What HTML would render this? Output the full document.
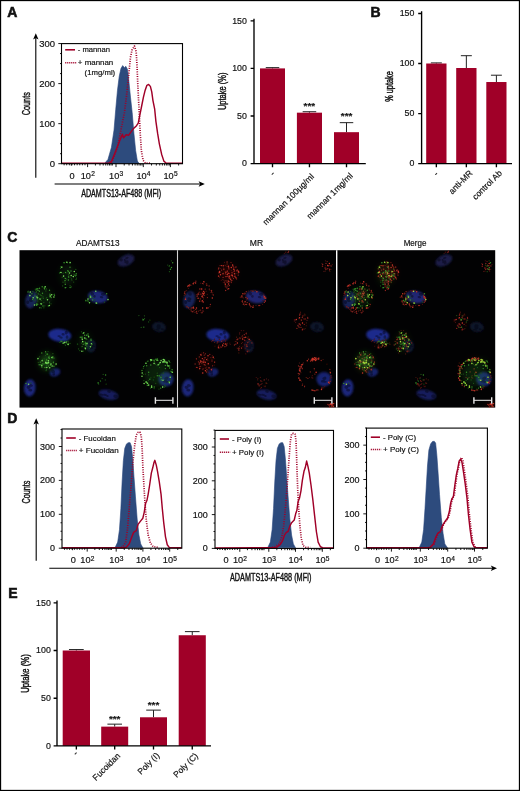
<!DOCTYPE html>
<html lang="en"><head><meta charset="utf-8"><title>Figure</title>
<style>html,body{margin:0;padding:0;background:#fff}svg{display:block}text{font-family:"Liberation Sans",sans-serif;stroke:#111;stroke-width:0.18px}.hv{stroke-width:0.55px}.cd{stroke-width:0.42px}</style>
</head><body>
<svg width="520" height="791" viewBox="0 0 520 791">
<rect x="0" y="0" width="520" height="791" fill="#fff"/>
<polygon points="104.52,163.53 107.98,159.38 111.44,147.27 114.03,129.97 115.76,109.20 117.49,90.17 119.22,76.33 120.95,68.55 122.68,65.61 124.41,67.68 125.80,66.30 127.53,69.41 128.74,79.79 130.47,97.09 132.20,112.66 133.93,133.43 135.66,150.73 137.39,161.11 139.12,163.53" fill="#2d4b7d" stroke="#27457c" stroke-width="0.6" stroke-linejoin="round"/>
<polyline points="111.44,163.18 112.30,161.11 117.49,147.27 120.95,129.97 124.41,112.66 127.01,91.90 128.74,74.60 130.47,57.30 132.02,50.03 134.45,46.06 136.18,51.76 137.04,65.95 137.73,83.25 138.60,100.55 139.46,117.85 140.33,135.16 141.37,150.73 143.10,160.24 145.52,163.18 150.36,163.18" fill="none" stroke="#a00028" stroke-width="1.7" stroke-dasharray="1 1.35" stroke-linejoin="round"/>
<polyline points="62.1,163.25 108.84,163.18 111.44,161.45 115.76,150.73 119.22,142.08 122.34,134.29 123.55,137.75 126.14,134.81 128.74,135.16 130.47,132.56 133.06,129.10 136.52,125.64 138.25,123.04 139.98,114.39 141.71,105.74 143.44,97.09 145.17,90.17 146.90,85.33 148.63,84.46 150.36,86.37 151.75,91.90 152.96,100.55 154.69,109.20 155.90,121.31 157.63,133.43 159.36,143.81 161.61,154.19 163.86,161.11 166.28,163.18 181.9,163.25" fill="none" stroke="#a00028" stroke-width="1.45" stroke-linejoin="round" stroke-linecap="round"/>
<rect x="61.5" y="43.6" width="121.0" height="120.1" fill="none" stroke="#000" stroke-width="1.1"/>
<path d="M61.5 163.70h-3.2M61.5 153.69h-1.5M61.5 143.67h-1.5M61.5 133.66h-1.5M61.5 123.65h-3.2M61.5 113.64h-1.5M61.5 103.62h-1.5M61.5 93.61h-1.5M61.5 83.60h-3.2M61.5 73.59h-1.5M61.5 63.57h-1.5M61.5 53.56h-1.5M61.5 43.55h-3.2M71.3 163.7v2M87.60 163.7v3.4M116.00 163.7v3.4M143.30 163.7v3.4M170.40 163.7v3.4M95.41 163.7v1.8M99.97 163.7v1.8M103.21 163.7v1.8M105.73 163.7v1.8M107.78 163.7v1.8M109.52 163.7v1.8M111.02 163.7v1.8M112.35 163.7v1.8M124.22 163.7v1.8M129.03 163.7v1.8M132.44 163.7v1.8M135.08 163.7v1.8M137.24 163.7v1.8M139.07 163.7v1.8M140.65 163.7v1.8M142.05 163.7v1.8M151.52 163.7v1.8M156.33 163.7v1.8M159.74 163.7v1.8M162.38 163.7v1.8M164.54 163.7v1.8M166.37 163.7v1.8M167.95 163.7v1.8M169.35 163.7v1.8M178.62 163.7v1.8M64.11 163.7v1.6M66.72 163.7v1.6M69.33 163.7v1.6M71.94 163.7v1.6M74.55 163.7v1.6M77.16 163.7v1.6M79.77 163.7v1.6M82.38 163.7v1.6M84.99 163.7v1.6" stroke="#000" stroke-width="0.9" fill="none"/>
<text x="55.10" y="166.75" font-size="8.8" text-anchor="end" textLength="5.3" lengthAdjust="spacingAndGlyphs" fill="#111">0</text>
<text x="55.10" y="126.70" font-size="8.8" text-anchor="end" textLength="15.8" lengthAdjust="spacingAndGlyphs" fill="#111">100</text>
<text x="55.10" y="86.65" font-size="8.8" text-anchor="end" textLength="15.8" lengthAdjust="spacingAndGlyphs" fill="#111">200</text>
<text x="55.10" y="46.60" font-size="8.8" text-anchor="end" textLength="15.8" lengthAdjust="spacingAndGlyphs" fill="#111">300</text>
<text x="72.10" y="178.70" font-size="9.200000000000001" text-anchor="middle" fill="#111">0</text>
<text x="80.70" y="178.70" font-size="9.200000000000001" fill="#111">10<tspan dx="0.2" dy="-2.6" font-size="6.62">2</tspan></text>
<text x="109.10" y="178.70" font-size="9.200000000000001" fill="#111">10<tspan dx="0.2" dy="-2.6" font-size="6.62">3</tspan></text>
<text x="136.40" y="178.70" font-size="9.200000000000001" fill="#111">10<tspan dx="0.2" dy="-2.6" font-size="6.62">4</tspan></text>
<text x="163.50" y="178.70" font-size="9.200000000000001" fill="#111">10<tspan dx="0.2" dy="-2.6" font-size="6.62">5</tspan></text>
<path d="M35.8 177.7V37.2" stroke="#000" stroke-width="1.1" fill="none"/>
<path d="M35.8 33.2l2.7 6.2l-2.7 -1.5l-2.7 1.5z" fill="#000"/>
<path d="M54.6 184.0H200.8" stroke="#000" stroke-width="1.1" fill="none"/>
<path d="M204.8 184.0l-6.2 2.7l1.5 -2.7l-1.5 -2.7z" fill="#000"/>
<path d="M65.2 49.8H75" stroke="#a00028" stroke-width="1.6"/>
<path d="M65.2 62.7H76.2" stroke="#a00028" stroke-width="1.4" stroke-dasharray="1.1 0.9"/>
<text x="77.80" y="52.30" font-size="7.9" textLength="32.3" lengthAdjust="spacingAndGlyphs" fill="#111">- mannan</text>
<text x="77.80" y="65.30" font-size="7.9" textLength="35.5" lengthAdjust="spacingAndGlyphs" fill="#111">+ mannan</text>
<text x="84.60" y="74.80" font-size="7.9" textLength="30.6" lengthAdjust="spacingAndGlyphs" fill="#111">(1mg/ml)</text>
<text transform="translate(29.60 103.70) rotate(-90)" font-size="10.6" text-anchor="middle" textLength="23" lengthAdjust="spacingAndGlyphs" fill="#111" class="cd">Counts</text>
<text x="81.20" y="196.70" font-size="10.6" textLength="80" lengthAdjust="spacingAndGlyphs" fill="#111" class="cd">ADAMTS13-AF488 (MFI)</text>
<text x="7.30" y="17.20" font-size="14" font-weight="bold" fill="#111" class="hv">A</text>
<path d="M272.50 68.40V67.64M265.75 67.64H279.25" stroke="#222" stroke-width="1" fill="none"/>
<rect x="260.00" y="68.40" width="25.00" height="95.20" fill="#a00028"/>
<path d="M309.45 112.67V111.72M302.67 111.72H316.23" stroke="#222" stroke-width="1" fill="none"/>
<rect x="296.90" y="112.67" width="25.10" height="50.93" fill="#a00028"/>
<path d="M346.50 132.18V122.66M339.75 122.66H353.25" stroke="#222" stroke-width="1" fill="none"/>
<rect x="334.00" y="132.18" width="25.00" height="31.42" fill="#a00028"/>
<path d="M254 18.7V163.6M253.4 163.6H365.8M254 163.60h-3.4M254 116.00h-3.4M254 68.40h-3.4M254 20.80h-3.4M272.50 163.6v3.6M309.45 163.6v3.6M346.50 163.6v3.6" stroke="#000" stroke-width="1.35" fill="none"/>
<text x="246.90" y="166.35" font-size="8.8" text-anchor="end" fill="#111">0</text>
<text x="246.90" y="118.75" font-size="8.8" text-anchor="end" fill="#111">50</text>
<text x="246.90" y="71.15" font-size="8.8" text-anchor="end" fill="#111">100</text>
<text x="246.90" y="23.55" font-size="8.8" text-anchor="end" fill="#111">150</text>
<text transform="translate(225.60 91.30) rotate(-90)" font-size="10.1" text-anchor="middle" textLength="37.5" lengthAdjust="spacingAndGlyphs" fill="#111" class="cd">Uptake (%)</text>
<text transform="translate(275.30 174.30) rotate(-45)" font-size="8.5" text-anchor="end" fill="#111">-</text>
<text transform="translate(314.50 177.20) rotate(-45)" font-size="8.5" text-anchor="end" fill="#111">mannan 100µg/ml</text>
<text transform="translate(353.30 176.50) rotate(-45)" font-size="8.5" text-anchor="end" fill="#111">mannan 1mg/ml</text>
<text x="309.30" y="109.30" font-size="9.5" text-anchor="middle" textLength="11.5" lengthAdjust="spacingAndGlyphs" font-weight="bold" fill="#111">***</text>
<text x="346.60" y="118.70" font-size="9.5" text-anchor="middle" textLength="11.5" lengthAdjust="spacingAndGlyphs" font-weight="bold" fill="#111">***</text>
<path d="M436.35 63.50V62.90M430.87 62.90H441.83" stroke="#222" stroke-width="1" fill="none"/>
<rect x="426.20" y="63.50" width="20.30" height="100.10" fill="#a00028"/>
<path d="M466.35 68.00V55.69M460.87 55.69H471.83" stroke="#222" stroke-width="1" fill="none"/>
<rect x="456.20" y="68.00" width="20.30" height="95.60" fill="#a00028"/>
<path d="M496.40 82.02V75.21M490.95 75.21H501.85" stroke="#222" stroke-width="1" fill="none"/>
<rect x="486.30" y="82.02" width="20.20" height="81.58" fill="#a00028"/>
<path d="M421.6 11.3V163.6M421.0 163.6H512M421.6 163.60h-3.4M421.6 113.55h-3.4M421.6 63.50h-3.4M421.6 13.45h-3.4M436.35 163.6v3.6M466.35 163.6v3.6M496.40 163.6v3.6" stroke="#000" stroke-width="1.35" fill="none"/>
<text x="414.40" y="166.35" font-size="8.8" text-anchor="end" fill="#111">0</text>
<text x="414.40" y="116.30" font-size="8.8" text-anchor="end" fill="#111">50</text>
<text x="414.40" y="66.25" font-size="8.8" text-anchor="end" fill="#111">100</text>
<text x="414.40" y="16.20" font-size="8.8" text-anchor="end" fill="#111">150</text>
<text transform="translate(393.30 86.50) rotate(-90)" font-size="10.1" text-anchor="middle" textLength="30.5" lengthAdjust="spacingAndGlyphs" fill="#111" class="cd">% uptake</text>
<text transform="translate(438.80 174.50) rotate(-45)" font-size="8.5" text-anchor="end" fill="#111">-</text>
<text transform="translate(473.20 173.60) rotate(-45)" font-size="8.5" text-anchor="end" fill="#111">anti-MR</text>
<text transform="translate(502.50 173.60) rotate(-45)" font-size="8.5" text-anchor="end" fill="#111">control Ab</text>
<text x="370.50" y="17.20" font-size="14" font-weight="bold" fill="#111" class="hv">B</text>
<path d="M76.35 650.50V649.55M68.98 649.55H83.72" stroke="#222" stroke-width="1" fill="none"/>
<rect x="62.70" y="650.50" width="27.30" height="95.40" fill="#a00028"/>
<path d="M114.70 726.63V724.15M107.41 724.15H121.99" stroke="#222" stroke-width="1" fill="none"/>
<rect x="101.20" y="726.63" width="27.00" height="19.27" fill="#a00028"/>
<path d="M153.50 717.28V710.12M146.21 710.12H160.79" stroke="#222" stroke-width="1" fill="none"/>
<rect x="140.00" y="717.28" width="27.00" height="28.62" fill="#a00028"/>
<path d="M192.25 635.24V631.61M184.93 631.61H199.57" stroke="#222" stroke-width="1" fill="none"/>
<rect x="178.70" y="635.24" width="27.10" height="110.66" fill="#a00028"/>
<path d="M57 600.5V745.9M56.4 745.9H211M57 745.90h-3.4M57 698.20h-3.4M57 650.50h-3.4M57 602.80h-3.4M76.35 745.9v3.6M114.70 745.9v3.6M153.50 745.9v3.6M192.25 745.9v3.6" stroke="#000" stroke-width="1.35" fill="none"/>
<text x="50.80" y="748.65" font-size="8.8" text-anchor="end" fill="#111">0</text>
<text x="50.80" y="700.95" font-size="8.8" text-anchor="end" fill="#111">50</text>
<text x="50.80" y="653.25" font-size="8.8" text-anchor="end" fill="#111">100</text>
<text x="50.80" y="605.55" font-size="8.8" text-anchor="end" fill="#111">150</text>
<text transform="translate(28.70 673.50) rotate(-90)" font-size="10.1" text-anchor="middle" textLength="38.5" lengthAdjust="spacingAndGlyphs" fill="#111" class="cd">Uptake (%)</text>
<text transform="translate(78.30 754.00) rotate(-45)" font-size="8.5" text-anchor="end" fill="#111">-</text>
<text transform="translate(120.80 756.40) rotate(-45)" font-size="8.5" text-anchor="end" fill="#111">Fucoidan</text>
<text transform="translate(160.00 756.00) rotate(-45)" font-size="8.5" text-anchor="end" fill="#111">Poly (I)</text>
<text transform="translate(198.50 756.40) rotate(-45)" font-size="8.5" text-anchor="end" fill="#111">Poly (C)</text>
<text x="114.70" y="721.70" font-size="9.5" text-anchor="middle" textLength="11.5" lengthAdjust="spacingAndGlyphs" font-weight="bold" fill="#111">***</text>
<text x="153.50" y="707.90" font-size="9.5" text-anchor="middle" textLength="11.5" lengthAdjust="spacingAndGlyphs" font-weight="bold" fill="#111">***</text>
<text x="8.20" y="598.20" font-size="14" font-weight="bold" fill="#111" class="hv">E</text>
<polygon points="115.04,547.79 117.70,542.12 119.47,529.73 120.88,508.50 122.12,481.95 123.36,460.71 124.78,448.32 126.55,443.89 128.32,442.65 130.09,442.65 131.50,446.55 132.74,458.94 133.98,476.64 135.40,496.11 137.17,519.12 138.94,535.04 140.71,543.89 142.83,547.79" fill="#2d4b7d" stroke="#27457c" stroke-width="0.6" stroke-linejoin="round"/>
<polyline points="121.24,547.43 123.01,546.73 125.66,542.12 127.43,529.73 129.20,508.50 130.97,487.26 132.74,464.25 134.51,446.55 136.28,435.04 138.05,432.39 139.82,432.04 141.24,435.93 142.12,448.32 142.83,466.02 143.89,485.49 145.13,504.96 146.37,520.88 148.14,535.04 150.44,543.01 153.10,546.55 158.41,547.43" fill="none" stroke="#a00028" stroke-width="1.7" stroke-dasharray="1 1.35" stroke-linejoin="round"/>
<polyline points="62.6,547.75 123.89,547.79 126.55,547.08 129.20,543.89 131.86,536.81 133.63,532.39 136.28,530.62 138.05,524.42 140.71,520.88 142.83,518.23 144.25,512.04 145.66,503.19 146.90,500.53 148.14,494.34 149.56,485.49 151.33,473.10 152.74,467.79 153.98,462.48 154.87,460.35 156.28,465.13 157.52,471.33 159.29,481.95 161.06,494.34 162.30,508.50 163.72,522.65 165.49,536.81 167.26,544.78 169.38,547.61 181.20000000000002,547.75" fill="none" stroke="#a00028" stroke-width="1.45" stroke-linejoin="round" stroke-linecap="round"/>
<rect x="62" y="429" width="119.80000000000001" height="119.20000000000005" fill="none" stroke="#000" stroke-width="1.1"/>
<path d="M62 548.20h-3.2M62 539.73h-1.5M62 531.25h-1.5M62 522.78h-1.5M62 514.30h-3.2M62 505.83h-1.5M62 497.35h-1.5M62 488.88h-1.5M62 480.40h-3.2M62 471.93h-1.5M62 463.45h-1.5M62 454.98h-1.5M62 446.50h-3.2M62 438.03h-1.5M62 429.55h-1.5M72.6 548.2v2M87.20 548.2v3.4M116.20 548.2v3.4M142.90 548.2v3.4M169.70 548.2v3.4M94.84 548.2v1.8M99.30 548.2v1.8M102.47 548.2v1.8M104.93 548.2v1.8M106.94 548.2v1.8M108.64 548.2v1.8M110.11 548.2v1.8M111.40 548.2v1.8M124.24 548.2v1.8M128.94 548.2v1.8M132.28 548.2v1.8M134.86 548.2v1.8M136.98 548.2v1.8M138.76 548.2v1.8M140.31 548.2v1.8M141.68 548.2v1.8M150.94 548.2v1.8M155.64 548.2v1.8M158.98 548.2v1.8M161.56 548.2v1.8M163.68 548.2v1.8M165.46 548.2v1.8M167.01 548.2v1.8M168.38 548.2v1.8M177.74 548.2v1.8M64.52 548.2v1.6M67.04 548.2v1.6M69.56 548.2v1.6M72.08 548.2v1.6M74.60 548.2v1.6M77.12 548.2v1.6M79.64 548.2v1.6M82.16 548.2v1.6M84.68 548.2v1.6" stroke="#000" stroke-width="0.9" fill="none"/>
<text x="55.00" y="551.25" font-size="8.8" text-anchor="end" textLength="5.0" lengthAdjust="spacingAndGlyphs" fill="#111">0</text>
<text x="55.00" y="517.35" font-size="8.8" text-anchor="end" textLength="15.0" lengthAdjust="spacingAndGlyphs" fill="#111">100</text>
<text x="55.00" y="483.45" font-size="8.8" text-anchor="end" textLength="15.0" lengthAdjust="spacingAndGlyphs" fill="#111">200</text>
<text x="55.00" y="449.55" font-size="8.8" text-anchor="end" textLength="15.0" lengthAdjust="spacingAndGlyphs" fill="#111">300</text>
<text x="73.40" y="563.20" font-size="9.200000000000001" text-anchor="middle" fill="#111">0</text>
<text x="80.30" y="563.20" font-size="9.200000000000001" fill="#111">10<tspan dx="0.2" dy="-2.6" font-size="6.62">2</tspan></text>
<text x="109.30" y="563.20" font-size="9.200000000000001" fill="#111">10<tspan dx="0.2" dy="-2.6" font-size="6.62">3</tspan></text>
<text x="136.00" y="563.20" font-size="9.200000000000001" fill="#111">10<tspan dx="0.2" dy="-2.6" font-size="6.62">4</tspan></text>
<text x="162.80" y="563.20" font-size="9.200000000000001" fill="#111">10<tspan dx="0.2" dy="-2.6" font-size="6.62">5</tspan></text>
<path d="M66.2 438H75.8" stroke="#a00028" stroke-width="1.6"/>
<path d="M66.2 450.5H77.0" stroke="#a00028" stroke-width="1.4" stroke-dasharray="1.1 0.9"/>
<text x="78.80" y="440.50" font-size="7.9" textLength="37" lengthAdjust="spacingAndGlyphs" fill="#111">- Fucoidan</text>
<text x="78.80" y="453.10" font-size="7.9" textLength="40" lengthAdjust="spacingAndGlyphs" fill="#111">+ Fucoidan</text>
<polygon points="267.70,547.79 270.35,542.12 272.12,529.73 273.54,508.50 274.78,481.95 276.02,460.71 277.43,448.32 279.20,443.89 280.97,442.65 282.74,442.65 284.16,446.55 285.40,458.94 286.64,476.64 288.05,496.11 289.82,519.12 291.59,535.04 293.36,543.89 295.49,547.79" fill="#2d4b7d" stroke="#27457c" stroke-width="0.6" stroke-linejoin="round"/>
<polyline points="272.12,547.43 274.78,546.90 279.20,543.89 281.86,536.81 283.63,526.19 285.40,508.50 286.81,490.80 288.05,473.10 289.29,455.40 290.35,441.24 291.59,434.16 293.36,433.27 295.13,434.16 296.02,441.24 296.55,455.40 297.08,473.10 297.79,490.80 298.67,508.50 299.91,526.19 301.33,538.58 303.10,545.66 305.75,547.26 310.18,547.43" fill="none" stroke="#a00028" stroke-width="1.7" stroke-dasharray="1 1.35" stroke-linejoin="round"/>
<polyline points="215.6,547.9499999999999 273.89,547.79 276.55,547.43 280.09,544.78 282.74,540.35 284.51,535.04 286.28,532.39 288.05,531.50 289.82,526.19 291.59,522.65 294.25,520.00 295.66,513.81 296.90,510.27 298.14,501.42 299.56,497.88 300.97,490.80 302.39,480.18 303.98,471.33 305.22,467.79 306.64,461.06 308.05,466.90 309.29,473.10 311.06,485.49 312.83,499.65 314.60,515.58 316.37,531.50 318.14,542.12 320.44,546.73 322.57,547.61 332.9,547.9499999999999" fill="none" stroke="#a00028" stroke-width="1.45" stroke-linejoin="round" stroke-linecap="round"/>
<rect x="215" y="430.4" width="118.5" height="118.0" fill="none" stroke="#000" stroke-width="1.1"/>
<path d="M215 548.40h-3.2M215 539.95h-1.5M215 531.50h-1.5M215 523.05h-1.5M215 514.60h-3.2M215 506.15h-1.5M215 497.70h-1.5M215 489.25h-1.5M215 480.80h-3.2M215 472.35h-1.5M215 463.90h-1.5M215 455.45h-1.5M215 447.00h-3.2M215 438.55h-1.5M215 430.10h-1.5M225.2 548.4v2M239.80 548.4v3.4M268.80 548.4v3.4M295.50 548.4v3.4M322.30 548.4v3.4M247.44 548.4v1.8M251.90 548.4v1.8M255.07 548.4v1.8M257.53 548.4v1.8M259.54 548.4v1.8M261.24 548.4v1.8M262.71 548.4v1.8M264.00 548.4v1.8M276.84 548.4v1.8M281.54 548.4v1.8M284.88 548.4v1.8M287.46 548.4v1.8M289.58 548.4v1.8M291.36 548.4v1.8M292.91 548.4v1.8M294.28 548.4v1.8M303.54 548.4v1.8M308.24 548.4v1.8M311.58 548.4v1.8M314.16 548.4v1.8M316.28 548.4v1.8M318.06 548.4v1.8M319.61 548.4v1.8M320.98 548.4v1.8M330.34 548.4v1.8M217.48 548.4v1.6M219.96 548.4v1.6M222.44 548.4v1.6M224.92 548.4v1.6M227.40 548.4v1.6M229.88 548.4v1.6M232.36 548.4v1.6M234.84 548.4v1.6M237.32 548.4v1.6" stroke="#000" stroke-width="0.9" fill="none"/>
<text x="207.80" y="551.45" font-size="8.8" text-anchor="end" textLength="5.0" lengthAdjust="spacingAndGlyphs" fill="#111">0</text>
<text x="207.80" y="517.65" font-size="8.8" text-anchor="end" textLength="15.0" lengthAdjust="spacingAndGlyphs" fill="#111">100</text>
<text x="207.80" y="483.85" font-size="8.8" text-anchor="end" textLength="15.0" lengthAdjust="spacingAndGlyphs" fill="#111">200</text>
<text x="207.80" y="450.05" font-size="8.8" text-anchor="end" textLength="15.0" lengthAdjust="spacingAndGlyphs" fill="#111">300</text>
<text x="226.00" y="563.40" font-size="9.200000000000001" text-anchor="middle" fill="#111">0</text>
<text x="232.90" y="563.40" font-size="9.200000000000001" fill="#111">10<tspan dx="0.2" dy="-2.6" font-size="6.62">2</tspan></text>
<text x="261.90" y="563.40" font-size="9.200000000000001" fill="#111">10<tspan dx="0.2" dy="-2.6" font-size="6.62">3</tspan></text>
<text x="288.60" y="563.40" font-size="9.200000000000001" fill="#111">10<tspan dx="0.2" dy="-2.6" font-size="6.62">4</tspan></text>
<text x="315.40" y="563.40" font-size="9.200000000000001" fill="#111">10<tspan dx="0.2" dy="-2.6" font-size="6.62">5</tspan></text>
<path d="M219.8 439H229" stroke="#a00028" stroke-width="1.6"/>
<path d="M219.8 452.2H230.2" stroke="#a00028" stroke-width="1.4" stroke-dasharray="1.1 0.9"/>
<text x="232.00" y="441.50" font-size="7.9" textLength="29.4" lengthAdjust="spacingAndGlyphs" fill="#111">- Poly (I)</text>
<text x="232.00" y="454.80" font-size="7.9" textLength="31.8" lengthAdjust="spacingAndGlyphs" fill="#111">+ Poly (I)</text>
<polygon points="419.16,547.79 421.81,542.12 423.58,529.73 425.00,508.50 426.24,487.26 427.48,466.02 428.89,450.09 430.66,443.89 432.43,441.59 434.20,441.24 435.62,443.01 436.86,455.40 438.10,473.10 439.51,494.34 441.28,517.35 443.05,533.27 444.82,543.89 447.48,547.79" fill="#2d4b7d" stroke="#27457c" stroke-width="0.6" stroke-linejoin="round"/>
<polyline points="428.01,547.79 430.66,547.43 434.20,543.82 436.86,536.59 438.63,532.98 441.28,531.18 443.41,524.86 445.71,521.25 448.36,517.64 450.13,511.32 451.55,502.29 452.79,497.78 454.20,495.98 455.44,486.05 457.21,473.41 458.63,467.09 460.04,459.33 461.64,457.52 462.88,460.77 464.29,469.80 466.06,482.44 467.83,496.88 469.25,513.13 471.02,529.37 472.79,542.01 474.91,546.70 476.68,547.61" fill="none" stroke="#a00028" stroke-width="1.7" stroke-dasharray="1 1.35" stroke-linejoin="round"/>
<polyline points="367.1,547.75 427.12,547.79 429.78,547.43 433.32,543.89 435.97,536.81 437.74,533.27 440.40,531.50 442.52,525.31 444.82,521.77 447.48,518.23 449.25,512.04 450.66,503.19 451.90,498.76 453.32,496.99 454.56,487.26 456.33,474.87 457.74,468.67 459.16,461.06 460.75,459.29 461.99,462.48 463.41,471.33 465.18,483.72 466.95,497.88 468.36,513.81 470.13,529.73 471.90,542.12 474.03,546.73 475.80,547.61 486.79999999999995,547.75" fill="none" stroke="#a00028" stroke-width="1.45" stroke-linejoin="round" stroke-linecap="round"/>
<rect x="366.5" y="428.1" width="120.89999999999998" height="120.10000000000002" fill="none" stroke="#000" stroke-width="1.1"/>
<path d="M366.5 548.20h-3.2M366.5 539.61h-1.5M366.5 531.03h-1.5M366.5 522.44h-1.5M366.5 513.85h-3.2M366.5 505.26h-1.5M366.5 496.68h-1.5M366.5 488.09h-1.5M366.5 479.50h-3.2M366.5 470.91h-1.5M366.5 462.33h-1.5M366.5 453.74h-1.5M366.5 445.15h-3.2M366.5 436.56h-1.5M366.5 427.98h-1.5M376.7 548.2v2M391.40 548.2v3.4M420.30 548.2v3.4M447.70 548.2v3.4M474.50 548.2v3.4M399.24 548.2v1.8M403.82 548.2v1.8M407.07 548.2v1.8M409.59 548.2v1.8M411.66 548.2v1.8M413.40 548.2v1.8M414.91 548.2v1.8M416.24 548.2v1.8M428.55 548.2v1.8M433.37 548.2v1.8M436.80 548.2v1.8M439.45 548.2v1.8M441.62 548.2v1.8M443.46 548.2v1.8M445.04 548.2v1.8M446.45 548.2v1.8M455.95 548.2v1.8M460.77 548.2v1.8M464.20 548.2v1.8M466.85 548.2v1.8M469.02 548.2v1.8M470.86 548.2v1.8M472.44 548.2v1.8M473.85 548.2v1.8M482.75 548.2v1.8M368.99 548.2v1.6M371.48 548.2v1.6M373.97 548.2v1.6M376.46 548.2v1.6M378.95 548.2v1.6M381.44 548.2v1.6M383.93 548.2v1.6M386.42 548.2v1.6M388.91 548.2v1.6" stroke="#000" stroke-width="0.9" fill="none"/>
<text x="359.40" y="551.25" font-size="8.8" text-anchor="end" textLength="5.0" lengthAdjust="spacingAndGlyphs" fill="#111">0</text>
<text x="359.40" y="516.90" font-size="8.8" text-anchor="end" textLength="15.0" lengthAdjust="spacingAndGlyphs" fill="#111">100</text>
<text x="359.40" y="482.55" font-size="8.8" text-anchor="end" textLength="15.0" lengthAdjust="spacingAndGlyphs" fill="#111">200</text>
<text x="359.40" y="448.20" font-size="8.8" text-anchor="end" textLength="15.0" lengthAdjust="spacingAndGlyphs" fill="#111">300</text>
<text x="377.50" y="563.20" font-size="9.200000000000001" text-anchor="middle" fill="#111">0</text>
<text x="384.50" y="563.20" font-size="9.200000000000001" fill="#111">10<tspan dx="0.2" dy="-2.6" font-size="6.62">2</tspan></text>
<text x="413.40" y="563.20" font-size="9.200000000000001" fill="#111">10<tspan dx="0.2" dy="-2.6" font-size="6.62">3</tspan></text>
<text x="440.80" y="563.20" font-size="9.200000000000001" fill="#111">10<tspan dx="0.2" dy="-2.6" font-size="6.62">4</tspan></text>
<text x="467.60" y="563.20" font-size="9.200000000000001" fill="#111">10<tspan dx="0.2" dy="-2.6" font-size="6.62">5</tspan></text>
<path d="M370.8 437.2H380" stroke="#a00028" stroke-width="1.6"/>
<path d="M370.8 449.5H381.2" stroke="#a00028" stroke-width="1.4" stroke-dasharray="1.1 0.9"/>
<text x="383.00" y="439.70" font-size="7.9" textLength="33" lengthAdjust="spacingAndGlyphs" fill="#111">- Poly (C)</text>
<text x="383.00" y="452.10" font-size="7.9" textLength="36" lengthAdjust="spacingAndGlyphs" fill="#111">+ Poly (C)</text>
<path d="M36.2 560.8V422.3" stroke="#000" stroke-width="1.1" fill="none"/>
<path d="M36.2 418.3l2.7 6.2l-2.7 -1.5l-2.7 1.5z" fill="#000"/>
<path d="M49.3 568.2H493" stroke="#000" stroke-width="1.1" fill="none"/>
<path d="M497 568.2l-6.2 2.7l1.5 -2.7l-1.5 -2.7z" fill="#000"/>
<text transform="translate(30.10 492.00) rotate(-90)" font-size="10.6" text-anchor="middle" textLength="23" lengthAdjust="spacingAndGlyphs" fill="#111" class="cd">Counts</text>
<text x="230.00" y="581.20" font-size="10.6" textLength="81.5" lengthAdjust="spacingAndGlyphs" fill="#111" class="cd">ADAMTS13-AF488 (MFI)</text>
<text x="7.30" y="423.20" font-size="14" font-weight="bold" fill="#111" class="hv">D</text>
<defs><filter id="b1" x="-20%" y="-20%" width="140%" height="140%"><feGaussianBlur stdDeviation="0.45"/></filter><filter id="b2" x="-30%" y="-30%" width="160%" height="160%"><feGaussianBlur stdDeviation="1.25"/></filter><filter id="b4" x="-50%" y="-50%" width="200%" height="200%"><feGaussianBlur stdDeviation="0.7"/></filter><filter id="b3" x="-50%" y="-50%" width="200%" height="200%"><feGaussianBlur stdDeviation="3"/></filter><clipPath id="cp"><rect x="19.5" y="250.2" width="475.7" height="157.40000000000003"/></clipPath></defs>
<rect x="19.5" y="250.2" width="475.7" height="157.40000000000003" fill="#020203"/>
<text x="97.80" y="246.00" font-size="8.2" text-anchor="middle" textLength="43.5" lengthAdjust="spacingAndGlyphs" fill="#111">ADAMTS13</text>
<text x="256.50" y="246.00" font-size="8.2" text-anchor="middle" textLength="13.3" lengthAdjust="spacingAndGlyphs" fill="#111">MR</text>
<text x="415.00" y="246.00" font-size="8.2" text-anchor="middle" textLength="22.7" lengthAdjust="spacingAndGlyphs" fill="#111">Merge</text>
<text x="7.30" y="242.20" font-size="14" font-weight="bold" fill="#111" class="hv">C</text>
<g clip-path="url(#cp)"><g transform="translate(0 0)">
<g filter="url(#b2)">
<ellipse cx="126" cy="260.5" rx="9" ry="5.3" transform="rotate(-25 126 260.5)" fill="#1a1e46"/>
<ellipse cx="31.3" cy="299.8" rx="5.8" ry="8.8" transform="rotate(15 31.3 299.8)" fill="#172058"/>
<ellipse cx="97.8" cy="297" rx="10" ry="6.2" transform="rotate(10 97.8 297)" fill="#1b2674"/>
<ellipse cx="159" cy="327" rx="7" ry="5" transform="rotate(10 159 327)" fill="#11132c"/>
<ellipse cx="59.8" cy="335.3" rx="11.5" ry="6.4" transform="rotate(5 59.8 335.3)" fill="#1f2a8c"/>
<ellipse cx="91" cy="346" rx="5" ry="6.5" transform="rotate(0 91 346)" fill="#10132e"/>
<ellipse cx="55" cy="372.4" rx="5.5" ry="4" transform="rotate(-20 55 372.4)" fill="#19236c"/>
<ellipse cx="166" cy="379.3" rx="7.5" ry="7.2" transform="rotate(0 166 379.3)" fill="#192370"/>
<ellipse cx="29.8" cy="387.8" rx="5.8" ry="8.6" transform="rotate(5 29.8 387.8)" fill="#1b267a"/>
<ellipse cx="108.5" cy="394.7" rx="10" ry="4.9" transform="rotate(12 108.5 394.7)" fill="#171f5c"/>
</g>
<g filter="url(#b4)" fill="#04050c" opacity="0.42">
<ellipse cx="126.3" cy="262.9" rx="1.4" ry="1.4" transform="rotate(-25 126 260.5)"/>
<ellipse cx="125.1" cy="260.0" rx="1.0" ry="1.6" transform="rotate(-25 126 260.5)"/>
<ellipse cx="125.9" cy="261.8" rx="2.2" ry="1.3" transform="rotate(-25 126 260.5)"/>
<ellipse cx="127.9" cy="258.6" rx="1.8" ry="1.0" transform="rotate(-25 126 260.5)"/>
<ellipse cx="122.0" cy="257.9" rx="1.6" ry="1.5" transform="rotate(-25 126 260.5)"/>
<ellipse cx="30.9" cy="298.7" rx="1.9" ry="1.4" transform="rotate(15 31.3 299.8)"/>
<ellipse cx="31.1" cy="300.8" rx="2.0" ry="1.3" transform="rotate(15 31.3 299.8)"/>
<ellipse cx="30.5" cy="294.0" rx="1.9" ry="1.7" transform="rotate(15 31.3 299.8)"/>
<ellipse cx="28.5" cy="303.1" rx="1.5" ry="1.7" transform="rotate(15 31.3 299.8)"/>
<ellipse cx="32.0" cy="298.8" rx="1.2" ry="1.0" transform="rotate(15 31.3 299.8)"/>
<ellipse cx="101.5" cy="296.5" rx="1.8" ry="1.1" transform="rotate(10 97.8 297)"/>
<ellipse cx="94.3" cy="296.9" rx="1.4" ry="1.4" transform="rotate(10 97.8 297)"/>
<ellipse cx="91.9" cy="294.8" rx="1.8" ry="1.7" transform="rotate(10 97.8 297)"/>
<ellipse cx="102.4" cy="293.4" rx="1.8" ry="1.0" transform="rotate(10 97.8 297)"/>
<ellipse cx="102.5" cy="293.5" rx="2.1" ry="1.4" transform="rotate(10 97.8 297)"/>
<ellipse cx="158.6" cy="325.8" rx="2.0" ry="1.4" transform="rotate(10 159 327)"/>
<ellipse cx="158.8" cy="327.7" rx="2.0" ry="1.8" transform="rotate(10 159 327)"/>
<ellipse cx="162.7" cy="328.6" rx="1.5" ry="1.0" transform="rotate(10 159 327)"/>
<ellipse cx="157.9" cy="329.9" rx="2.0" ry="0.8" transform="rotate(10 159 327)"/>
<ellipse cx="158.3" cy="326.6" rx="1.9" ry="1.1" transform="rotate(10 159 327)"/>
<ellipse cx="66.0" cy="332.1" rx="1.6" ry="1.8" transform="rotate(5 59.8 335.3)"/>
<ellipse cx="59.2" cy="336.2" rx="1.7" ry="0.8" transform="rotate(5 59.8 335.3)"/>
<ellipse cx="61.2" cy="337.5" rx="1.7" ry="1.0" transform="rotate(5 59.8 335.3)"/>
<ellipse cx="67.2" cy="336.4" rx="1.4" ry="1.8" transform="rotate(5 59.8 335.3)"/>
<ellipse cx="63.0" cy="334.0" rx="1.6" ry="1.3" transform="rotate(5 59.8 335.3)"/>
<ellipse cx="89.5" cy="343.5" rx="1.7" ry="1.4" transform="rotate(0 91 346)"/>
<ellipse cx="93.0" cy="345.0" rx="1.5" ry="1.5" transform="rotate(0 91 346)"/>
<ellipse cx="91.1" cy="347.9" rx="2.2" ry="1.3" transform="rotate(0 91 346)"/>
<ellipse cx="90.5" cy="345.8" rx="1.5" ry="1.4" transform="rotate(0 91 346)"/>
<ellipse cx="93.5" cy="346.4" rx="1.8" ry="0.9" transform="rotate(0 91 346)"/>
<ellipse cx="53.5" cy="371.2" rx="1.8" ry="1.2" transform="rotate(-20 55 372.4)"/>
<ellipse cx="54.1" cy="370.2" rx="1.0" ry="0.9" transform="rotate(-20 55 372.4)"/>
<ellipse cx="53.2" cy="369.8" rx="1.3" ry="1.3" transform="rotate(-20 55 372.4)"/>
<ellipse cx="53.6" cy="371.7" rx="1.4" ry="1.1" transform="rotate(-20 55 372.4)"/>
<ellipse cx="53.2" cy="373.8" rx="1.4" ry="1.2" transform="rotate(-20 55 372.4)"/>
<ellipse cx="166.1" cy="378.5" rx="1.7" ry="1.5" transform="rotate(0 166 379.3)"/>
<ellipse cx="165.3" cy="380.9" rx="2.0" ry="1.0" transform="rotate(0 166 379.3)"/>
<ellipse cx="167.1" cy="381.8" rx="1.8" ry="0.9" transform="rotate(0 166 379.3)"/>
<ellipse cx="165.0" cy="381.4" rx="2.0" ry="1.2" transform="rotate(0 166 379.3)"/>
<ellipse cx="167.0" cy="378.1" rx="1.4" ry="1.5" transform="rotate(0 166 379.3)"/>
<ellipse cx="31.5" cy="385.6" rx="1.3" ry="0.9" transform="rotate(5 29.8 387.8)"/>
<ellipse cx="28.5" cy="387.4" rx="2.0" ry="1.6" transform="rotate(5 29.8 387.8)"/>
<ellipse cx="30.5" cy="390.0" rx="2.0" ry="1.4" transform="rotate(5 29.8 387.8)"/>
<ellipse cx="30.5" cy="385.2" rx="1.2" ry="1.1" transform="rotate(5 29.8 387.8)"/>
<ellipse cx="30.2" cy="385.5" rx="1.4" ry="1.2" transform="rotate(5 29.8 387.8)"/>
<ellipse cx="105.3" cy="395.6" rx="2.1" ry="1.0" transform="rotate(12 108.5 394.7)"/>
<ellipse cx="115.6" cy="394.8" rx="2.1" ry="1.8" transform="rotate(12 108.5 394.7)"/>
<ellipse cx="101.9" cy="396.1" rx="2.1" ry="1.0" transform="rotate(12 108.5 394.7)"/>
<ellipse cx="108.3" cy="391.5" rx="1.8" ry="1.3" transform="rotate(12 108.5 394.7)"/>
<ellipse cx="107.7" cy="396.2" rx="1.3" ry="0.9" transform="rotate(12 108.5 394.7)"/>
</g>
<g filter="url(#b3)">
<ellipse cx="67.5" cy="275" rx="7.6000000000000005" ry="10.8" fill="#2a8a20" opacity="0.15"/>
<ellipse cx="43" cy="297" rx="9.600000000000001" ry="9.200000000000001" fill="#2a8a20" opacity="0.2"/>
<ellipse cx="90.5" cy="299.5" rx="4.0" ry="4.0" fill="#2a8a20" opacity="0.1"/>
<ellipse cx="65.5" cy="342.5" rx="4.800000000000001" ry="2.64" fill="#2a8a20" opacity="0.2"/>
<ellipse cx="85" cy="342" rx="6.4" ry="9.600000000000001" fill="#2a8a20" opacity="0.15"/>
<ellipse cx="47" cy="361.5" rx="7.6000000000000005" ry="8.4" fill="#2a8a20" opacity="0.45"/>
<ellipse cx="157" cy="374" rx="12.8" ry="12.8" fill="#2a8a20" opacity="0.22"/>
<ellipse cx="164" cy="362" rx="5.6000000000000005" ry="2.8000000000000003" fill="#2a8a20" opacity="0.15"/>
</g>
<g filter="url(#b1)">
<path d="M65.1 282.9h0M67.0 272.8h0M68.4 274.8h0M67.5 262.8h0M75.6 276.3h0M63.0 282.2h0M68.9 275.1h0M71.4 286.9h0M70.1 285.7h0M75.8 269.4h0M64.7 280.9h0M59.5 273.2h0M73.7 282.1h0M70.0 263.2h0M76.4 278.0h0M71.6 278.8h0M60.6 266.8h0M62.7 285.9h0M63.1 273.2h0M66.2 279.2h0M70.1 277.0h0M64.0 262.5h0M68.3 276.8h0M73.9 274.2h0M64.3 278.1h0M60.5 268.3h0M62.2 277.2h0M76.0 279.4h0M73.5 276.8h0M68.9 271.8h0M66.4 262.0h0M61.9 266.5h0M71.9 280.0h0M35.7 290.1h0M36.6 289.9h0M46.8 297.6h0M34.4 300.2h0M44.8 305.9h0M41.9 295.8h0M38.3 297.8h0M46.2 298.1h0M41.3 300.6h0M43.5 298.4h0M36.6 298.4h0M36.4 291.6h0M43.9 307.8h0M49.9 297.0h0M41.8 303.5h0M51.0 303.8h0M41.9 298.0h0M40.9 295.3h0M37.1 295.4h0M32.8 291.5h0M45.9 290.9h0M46.5 288.9h0M40.6 299.5h0M36.1 292.4h0M54.3 294.0h0M38.1 293.2h0M43.1 296.9h0M49.6 302.1h0M40.3 294.7h0M35.3 289.2h0M37.9 301.8h0M43.8 302.3h0M49.5 295.9h0M54.0 294.4h0M38.7 294.2h0M50.7 296.1h0M37.9 299.9h0M50.7 296.3h0M41.3 304.1h0M49.4 302.9h0M37.7 298.9h0M45.1 287.0h0M51.1 297.6h0M41.3 307.9h0M28.2 291.1h0M30.0 292.7h0M93.1 297.3h0M94.8 299.9h0M87.3 301.1h0M89.5 295.9h0M85.8 300.0h0M88.4 301.3h0M91.6 298.0h0M89.5 297.8h0M89.7 297.1h0M104.5 302.1h0M144.4 315.8h0M148.6 321.9h0M149.9 320.1h0M142.7 320.0h0M144.5 318.7h0M138.9 315.6h0M142.5 319.0h0M141.2 327.4h0M62.4 341.3h0M68.5 341.8h0M70.0 343.4h0M68.1 344.5h0M59.8 342.4h0M61.3 341.7h0M65.2 344.8h0M65.4 345.3h0M88.9 337.1h0M85.0 341.9h0M77.7 344.1h0M81.5 337.2h0M83.1 342.6h0M86.4 345.2h0M81.9 346.7h0M86.8 339.5h0M84.9 347.4h0M86.9 346.7h0M85.5 349.6h0M92.5 344.3h0M79.8 350.5h0M82.6 333.3h0M77.4 344.0h0M89.6 348.3h0M83.4 351.1h0M84.7 338.1h0M85.2 343.2h0M85.2 344.5h0M78.6 348.9h0M82.4 346.4h0M81.4 343.1h0M84.3 332.3h0M86.7 346.2h0M81.4 331.8h0M82.1 336.4h0M85.3 341.9h0M91.4 345.8h0M46.0 353.2h0M46.1 370.7h0M45.0 363.5h0M49.9 362.9h0M46.4 369.7h0M46.6 363.4h0M47.6 354.2h0M48.5 361.8h0M50.4 365.5h0M52.9 353.7h0M44.1 358.8h0M42.4 363.9h0M46.7 362.1h0M39.7 356.8h0M46.7 359.1h0M43.9 360.8h0M45.5 355.3h0M54.6 358.1h0M50.4 365.0h0M52.1 358.2h0M41.8 364.0h0M48.0 351.5h0M37.9 359.4h0M45.1 360.0h0M49.2 355.9h0M55.9 364.8h0M53.6 363.0h0M38.3 362.6h0M44.1 364.0h0M46.4 365.3h0M42.4 359.4h0M152.2 387.1h0M145.7 363.1h0M164.4 387.0h0M158.4 360.3h0M170.6 379.7h0M164.6 360.3h0M155.0 359.8h0M143.9 380.6h0M168.6 366.1h0M154.1 388.6h0M170.4 371.2h0M170.2 376.6h0M143.3 368.3h0M162.5 386.5h0M144.6 365.6h0M151.4 359.8h0M170.4 379.5h0M165.1 360.3h0M150.5 388.2h0M147.3 361.5h0M159.0 389.0h0M164.8 361.8h0M168.0 382.1h0M164.4 385.1h0M165.6 386.2h0M148.3 380.7h0M143.3 374.3h0M157.2 373.2h0M155.6 364.2h0M154.1 377.0h0M148.7 374.8h0M154.1 362.7h0M150.9 377.8h0M145.4 374.1h0M157.1 365.7h0M153.3 379.9h0M159.6 367.5h0M161.7 376.2h0M155.7 383.3h0M159.8 376.4h0M161.2 378.3h0M163.2 373.2h0M146.3 381.5h0M159.4 363.0h0M168.4 360.5h0M163.4 361.7h0M169.9 362.4h0M98.7 384.1h0M103.2 374.4h0M106.1 384.1h0M97.8 382.8h0M105.3 379.9h0M100.6 381.3h0M100.3 380.5h0M102.2 378.6h0M169.1 266.5h0M171.3 260.8h0M167.8 265.0h0M169.4 271.7h0M169.5 265.7h0M170.2 269.3h0M30.9 383.2h0" stroke="#1c5416" stroke-width="1.25" stroke-linecap="round" fill="none" opacity="1.0"/>
<path d="M65.8 287.6h0M67.8 270.7h0M68.3 271.2h0M65.5 272.5h0M76.2 275.1h0M68.4 280.0h0M76.2 273.6h0M65.2 287.8h0M60.3 272.4h0M70.1 287.5h0M64.1 262.7h0M71.0 271.0h0M65.5 278.4h0M68.6 277.0h0M65.3 284.4h0M75.0 275.2h0M65.1 280.6h0M70.0 267.2h0M36.3 304.6h0M44.5 287.9h0M37.8 288.7h0M36.7 304.0h0M41.5 304.2h0M44.2 287.9h0M39.8 307.7h0M38.0 290.4h0M51.2 297.6h0M43.0 306.0h0M32.7 299.3h0M36.7 289.0h0M37.7 304.2h0M42.2 286.8h0M36.7 305.4h0M49.5 290.3h0M54.5 295.3h0M35.0 296.1h0M48.4 305.9h0M50.0 294.2h0M39.5 288.2h0M42.5 293.2h0M44.6 288.9h0M39.4 291.2h0M31.9 293.8h0M28.0 292.0h0M87.9 300.1h0M90.4 295.9h0M92.6 300.0h0M85.9 300.8h0M96.8 303.2h0M106.7 293.8h0M143.5 319.8h0M143.8 327.1h0M68.1 343.6h0M66.4 342.7h0M61.1 341.3h0M66.7 341.8h0M62.8 343.2h0M87.3 343.2h0M91.0 339.2h0M85.4 345.1h0M91.1 340.4h0M86.0 338.8h0M82.0 337.5h0M85.4 348.0h0M81.9 337.9h0M83.2 344.3h0M88.0 334.0h0M86.6 335.3h0M88.2 335.6h0M80.3 337.3h0M84.7 335.3h0M85.8 342.8h0M85.3 343.5h0M53.1 357.9h0M49.3 358.3h0M53.4 362.3h0M40.3 362.1h0M41.9 367.0h0M45.6 351.7h0M45.0 367.5h0M48.7 357.8h0M50.4 364.9h0M53.9 366.2h0M49.0 356.9h0M48.4 363.1h0M47.1 363.8h0M40.9 364.7h0M47.0 363.4h0M46.6 360.0h0M48.4 366.1h0M45.4 363.3h0M42.9 364.0h0M47.1 354.2h0M52.8 356.6h0M47.4 354.1h0M39.2 364.8h0M41.8 353.0h0M142.0 370.5h0M147.3 385.3h0M150.7 360.8h0M154.2 387.0h0M169.1 381.4h0M143.6 366.6h0M153.9 360.3h0M169.6 368.0h0M154.2 361.0h0M157.3 359.0h0M172.1 369.8h0M151.1 359.6h0M155.9 359.2h0M160.7 388.1h0M168.0 365.6h0M171.5 371.7h0M146.7 382.1h0M146.5 382.7h0M148.0 361.1h0M169.6 366.0h0M146.8 382.8h0M151.5 360.4h0M153.9 360.1h0M167.4 365.0h0M165.4 368.6h0M146.7 365.7h0M157.3 375.8h0M159.1 375.8h0M149.8 379.3h0M150.8 365.0h0M160.9 377.4h0M148.7 372.2h0M161.4 379.9h0M165.4 365.4h0M159.9 362.8h0M166.7 362.8h0M169.3 361.2h0M162.9 362.0h0M159.3 363.9h0M98.3 382.9h0M105.6 375.0h0M170.5 269.2h0M171.5 267.5h0M172.7 262.7h0M26.0 383.4h0" stroke="#369028" stroke-width="1.4" stroke-linecap="round" fill="none" opacity="1.0"/>
<path d="M61.8 267.2h0M70.1 262.5h0M66.9 262.2h0M73.3 276.5h0M74.3 271.4h0M69.5 273.0h0M63.6 276.1h0M61.0 272.4h0M71.2 275.4h0M49.4 305.4h0M41.0 303.8h0M53.9 297.0h0M50.3 295.9h0M33.2 297.7h0M37.5 297.7h0M40.0 299.0h0M34.5 305.0h0M51.7 294.8h0M36.9 297.0h0M47.5 299.7h0M45.2 286.7h0M30.3 291.9h0M29.9 295.6h0M90.7 297.1h0M88.0 299.0h0M89.5 302.7h0M96.2 303.1h0M108.0 299.6h0M95.8 291.2h0M68.1 344.5h0M63.8 343.0h0M64.9 342.2h0M82.7 341.6h0M85.4 348.5h0M84.8 337.9h0M83.6 333.0h0M90.4 346.8h0M86.9 343.8h0M82.3 339.3h0M88.6 336.7h0M81.9 351.3h0M91.4 343.8h0M45.8 362.3h0M38.0 358.4h0M42.1 360.8h0M48.5 362.6h0M51.9 357.5h0M48.4 360.8h0M47.1 363.1h0M45.7 362.6h0M46.8 367.5h0M46.5 363.1h0M56.1 363.9h0M49.7 367.7h0M41.8 365.6h0M51.0 364.1h0M52.1 366.0h0M157.1 360.2h0M148.7 385.1h0M172.4 372.3h0M165.7 361.9h0M146.0 381.9h0M164.1 361.3h0M170.2 377.2h0M169.4 382.8h0M168.1 366.0h0M161.1 360.6h0M150.6 359.8h0M146.0 363.2h0M147.6 383.2h0M142.2 372.9h0M162.7 387.1h0M151.6 386.0h0M151.6 387.2h0M142.0 376.3h0M144.1 383.4h0M163.3 359.5h0M151.7 359.9h0M163.0 380.2h0M154.1 363.5h0M158.2 364.8h0M167.1 363.0h0M164.1 361.9h0M164.4 360.1h0M167.0 362.2h0M160.3 362.5h0M162.9 361.9h0M28.6 384.3h0" stroke="#78dc58" stroke-width="1.55" stroke-linecap="round" fill="none" opacity="1.0"/>
</g>
</g></g>
<g clip-path="url(#cp)"><g transform="translate(158 0)">
<g filter="url(#b2)">
<ellipse cx="126" cy="260.5" rx="9" ry="5.3" transform="rotate(-25 126 260.5)" fill="#1a1e46"/>
<ellipse cx="31.3" cy="299.8" rx="5.8" ry="8.8" transform="rotate(15 31.3 299.8)" fill="#172058"/>
<ellipse cx="97.8" cy="297" rx="10" ry="6.2" transform="rotate(10 97.8 297)" fill="#1b2674"/>
<ellipse cx="159" cy="327" rx="7" ry="5" transform="rotate(10 159 327)" fill="#11132c"/>
<ellipse cx="59.8" cy="335.3" rx="11.5" ry="6.4" transform="rotate(5 59.8 335.3)" fill="#1f2a8c"/>
<ellipse cx="91" cy="346" rx="5" ry="6.5" transform="rotate(0 91 346)" fill="#10132e"/>
<ellipse cx="55" cy="372.4" rx="5.5" ry="4" transform="rotate(-20 55 372.4)" fill="#19236c"/>
<ellipse cx="166" cy="379.3" rx="7.5" ry="7.2" transform="rotate(0 166 379.3)" fill="#192370"/>
<ellipse cx="29.8" cy="387.8" rx="5.8" ry="8.6" transform="rotate(5 29.8 387.8)" fill="#1b267a"/>
<ellipse cx="108.5" cy="394.7" rx="10" ry="4.9" transform="rotate(12 108.5 394.7)" fill="#171f5c"/>
</g>
<g filter="url(#b4)" fill="#04050c" opacity="0.42">
<ellipse cx="126.3" cy="262.9" rx="1.4" ry="1.4" transform="rotate(-25 126 260.5)"/>
<ellipse cx="125.1" cy="260.0" rx="1.0" ry="1.6" transform="rotate(-25 126 260.5)"/>
<ellipse cx="125.9" cy="261.8" rx="2.2" ry="1.3" transform="rotate(-25 126 260.5)"/>
<ellipse cx="127.9" cy="258.6" rx="1.8" ry="1.0" transform="rotate(-25 126 260.5)"/>
<ellipse cx="122.0" cy="257.9" rx="1.6" ry="1.5" transform="rotate(-25 126 260.5)"/>
<ellipse cx="30.9" cy="298.7" rx="1.9" ry="1.4" transform="rotate(15 31.3 299.8)"/>
<ellipse cx="31.1" cy="300.8" rx="2.0" ry="1.3" transform="rotate(15 31.3 299.8)"/>
<ellipse cx="30.5" cy="294.0" rx="1.9" ry="1.7" transform="rotate(15 31.3 299.8)"/>
<ellipse cx="28.5" cy="303.1" rx="1.5" ry="1.7" transform="rotate(15 31.3 299.8)"/>
<ellipse cx="32.0" cy="298.8" rx="1.2" ry="1.0" transform="rotate(15 31.3 299.8)"/>
<ellipse cx="101.5" cy="296.5" rx="1.8" ry="1.1" transform="rotate(10 97.8 297)"/>
<ellipse cx="94.3" cy="296.9" rx="1.4" ry="1.4" transform="rotate(10 97.8 297)"/>
<ellipse cx="91.9" cy="294.8" rx="1.8" ry="1.7" transform="rotate(10 97.8 297)"/>
<ellipse cx="102.4" cy="293.4" rx="1.8" ry="1.0" transform="rotate(10 97.8 297)"/>
<ellipse cx="102.5" cy="293.5" rx="2.1" ry="1.4" transform="rotate(10 97.8 297)"/>
<ellipse cx="158.6" cy="325.8" rx="2.0" ry="1.4" transform="rotate(10 159 327)"/>
<ellipse cx="158.8" cy="327.7" rx="2.0" ry="1.8" transform="rotate(10 159 327)"/>
<ellipse cx="162.7" cy="328.6" rx="1.5" ry="1.0" transform="rotate(10 159 327)"/>
<ellipse cx="157.9" cy="329.9" rx="2.0" ry="0.8" transform="rotate(10 159 327)"/>
<ellipse cx="158.3" cy="326.6" rx="1.9" ry="1.1" transform="rotate(10 159 327)"/>
<ellipse cx="66.0" cy="332.1" rx="1.6" ry="1.8" transform="rotate(5 59.8 335.3)"/>
<ellipse cx="59.2" cy="336.2" rx="1.7" ry="0.8" transform="rotate(5 59.8 335.3)"/>
<ellipse cx="61.2" cy="337.5" rx="1.7" ry="1.0" transform="rotate(5 59.8 335.3)"/>
<ellipse cx="67.2" cy="336.4" rx="1.4" ry="1.8" transform="rotate(5 59.8 335.3)"/>
<ellipse cx="63.0" cy="334.0" rx="1.6" ry="1.3" transform="rotate(5 59.8 335.3)"/>
<ellipse cx="89.5" cy="343.5" rx="1.7" ry="1.4" transform="rotate(0 91 346)"/>
<ellipse cx="93.0" cy="345.0" rx="1.5" ry="1.5" transform="rotate(0 91 346)"/>
<ellipse cx="91.1" cy="347.9" rx="2.2" ry="1.3" transform="rotate(0 91 346)"/>
<ellipse cx="90.5" cy="345.8" rx="1.5" ry="1.4" transform="rotate(0 91 346)"/>
<ellipse cx="93.5" cy="346.4" rx="1.8" ry="0.9" transform="rotate(0 91 346)"/>
<ellipse cx="53.5" cy="371.2" rx="1.8" ry="1.2" transform="rotate(-20 55 372.4)"/>
<ellipse cx="54.1" cy="370.2" rx="1.0" ry="0.9" transform="rotate(-20 55 372.4)"/>
<ellipse cx="53.2" cy="369.8" rx="1.3" ry="1.3" transform="rotate(-20 55 372.4)"/>
<ellipse cx="53.6" cy="371.7" rx="1.4" ry="1.1" transform="rotate(-20 55 372.4)"/>
<ellipse cx="53.2" cy="373.8" rx="1.4" ry="1.2" transform="rotate(-20 55 372.4)"/>
<ellipse cx="166.1" cy="378.5" rx="1.7" ry="1.5" transform="rotate(0 166 379.3)"/>
<ellipse cx="165.3" cy="380.9" rx="2.0" ry="1.0" transform="rotate(0 166 379.3)"/>
<ellipse cx="167.1" cy="381.8" rx="1.8" ry="0.9" transform="rotate(0 166 379.3)"/>
<ellipse cx="165.0" cy="381.4" rx="2.0" ry="1.2" transform="rotate(0 166 379.3)"/>
<ellipse cx="167.0" cy="378.1" rx="1.4" ry="1.5" transform="rotate(0 166 379.3)"/>
<ellipse cx="31.5" cy="385.6" rx="1.3" ry="0.9" transform="rotate(5 29.8 387.8)"/>
<ellipse cx="28.5" cy="387.4" rx="2.0" ry="1.6" transform="rotate(5 29.8 387.8)"/>
<ellipse cx="30.5" cy="390.0" rx="2.0" ry="1.4" transform="rotate(5 29.8 387.8)"/>
<ellipse cx="30.5" cy="385.2" rx="1.2" ry="1.1" transform="rotate(5 29.8 387.8)"/>
<ellipse cx="30.2" cy="385.5" rx="1.4" ry="1.2" transform="rotate(5 29.8 387.8)"/>
<ellipse cx="105.3" cy="395.6" rx="2.1" ry="1.0" transform="rotate(12 108.5 394.7)"/>
<ellipse cx="115.6" cy="394.8" rx="2.1" ry="1.8" transform="rotate(12 108.5 394.7)"/>
<ellipse cx="101.9" cy="396.1" rx="2.1" ry="1.0" transform="rotate(12 108.5 394.7)"/>
<ellipse cx="108.3" cy="391.5" rx="1.8" ry="1.3" transform="rotate(12 108.5 394.7)"/>
<ellipse cx="107.7" cy="396.2" rx="1.3" ry="0.9" transform="rotate(12 108.5 394.7)"/>
</g>
<g filter="url(#b3)">
<ellipse cx="69.8" cy="272.5" rx="8.8" ry="8.8" fill="#a01414" opacity="0.2"/>
<ellipse cx="44" cy="295" rx="4.800000000000001" ry="5.6000000000000005" fill="#a01414" opacity="0.1"/>
<ellipse cx="95" cy="298.5" rx="10.4" ry="7.2" fill="#a01414" opacity="0.04"/>
<ellipse cx="143" cy="322" rx="6.4" ry="8.0" fill="#a01414" opacity="0.04"/>
<ellipse cx="63" cy="343" rx="8.0" ry="4.0" fill="#a01414" opacity="0.05"/>
<ellipse cx="85" cy="342" rx="7.2" ry="10.4" fill="#a01414" opacity="0.05"/>
<ellipse cx="47" cy="363" rx="8.0" ry="8.8" fill="#a01414" opacity="0.12"/>
<ellipse cx="156" cy="359.5" rx="7.2" ry="1.7600000000000002" fill="#a01414" opacity="0.1"/>
<ellipse cx="173.5" cy="405.5" rx="3.6" ry="2.0" fill="#a01414" opacity="0.5"/>
</g>
<g filter="url(#b1)">
<path d="M73.4 270.5h0M74.6 273.0h0M68.0 273.1h0M72.4 277.8h0M67.0 271.1h0M63.2 280.3h0M78.2 271.5h0M67.0 265.1h0M70.7 273.6h0M80.1 273.7h0M66.5 262.3h0M78.0 273.6h0M60.8 273.5h0M65.2 282.5h0M76.5 275.9h0M69.0 262.2h0M69.1 263.7h0M72.6 262.5h0M64.6 279.5h0M78.0 266.6h0M61.6 277.2h0M74.9 266.6h0M65.5 268.2h0M62.8 268.5h0M77.1 276.5h0M80.0 272.1h0M69.0 266.4h0M69.1 264.7h0M60.6 276.1h0M77.8 277.1h0M77.7 274.0h0M65.4 273.0h0M67.5 265.7h0M61.9 265.6h0M69.8 273.2h0M67.1 280.7h0M70.9 276.0h0M76.9 267.8h0M60.2 276.2h0M65.8 280.1h0M71.9 278.7h0M73.4 262.7h0M69.4 286.3h0M69.4 285.5h0M68.3 282.2h0M67.7 290.4h0M70.2 286.2h0M68.6 286.2h0M69.8 284.0h0M26.2 295.4h0M48.2 283.7h0M53.6 291.9h0M52.8 292.5h0M43.0 312.1h0M36.9 312.3h0M31.5 285.3h0M48.3 284.2h0M35.4 310.9h0M48.8 283.6h0M44.3 312.6h0M54.2 294.0h0M28.7 290.6h0M27.0 293.6h0M30.4 288.3h0M54.2 294.1h0M28.7 306.4h0M27.7 291.1h0M35.8 283.8h0M27.2 293.4h0M54.8 292.6h0M38.8 312.1h0M50.1 307.8h0M46.4 282.1h0M27.2 299.2h0M45.6 311.5h0M52.1 290.5h0M42.8 283.2h0M45.1 310.7h0M35.3 283.3h0M31.8 309.3h0M51.9 306.7h0M50.5 307.7h0M40.5 311.5h0M27.0 294.1h0M30.8 307.6h0M27.6 294.4h0M44.5 311.9h0M31.5 285.3h0M48.9 284.5h0M48.8 285.6h0M43.7 294.7h0M42.4 289.0h0M45.5 298.9h0M43.8 291.0h0M44.7 297.2h0M43.5 295.0h0M48.1 291.2h0M42.5 288.9h0M41.6 292.1h0M40.8 292.3h0M49.2 294.3h0M43.7 301.6h0M43.8 289.0h0M45.4 291.3h0M33.1 309.6h0M44.8 310.0h0M35.7 307.2h0M38.9 310.0h0M32.4 308.1h0M37.8 312.0h0M41.1 310.4h0M36.5 310.6h0M82.3 297.2h0M93.0 290.6h0M107.4 297.3h0M86.5 294.0h0M86.8 292.9h0M98.0 305.5h0M84.4 297.2h0M83.6 301.5h0M84.3 300.6h0M85.0 294.6h0M97.1 290.5h0M107.9 298.4h0M93.9 290.9h0M104.6 304.3h0M97.6 290.4h0M88.0 304.4h0M90.3 291.0h0M84.9 294.0h0M95.2 291.0h0M95.1 307.5h0M105.9 294.1h0M105.2 300.3h0M93.5 306.4h0M87.4 293.3h0M88.2 300.1h0M86.1 303.0h0M89.0 299.5h0M85.2 297.9h0M86.4 305.1h0M87.9 297.3h0M85.6 303.2h0M91.8 304.6h0M139.5 325.4h0M144.9 328.6h0M144.6 315.5h0M145.9 316.0h0M146.0 329.5h0M145.7 318.9h0M148.3 322.9h0M137.6 320.1h0M149.0 320.4h0M143.5 320.3h0M136.4 319.5h0M144.5 323.1h0M142.4 312.7h0M148.2 325.8h0M147.1 328.6h0M141.0 318.6h0M144.3 330.3h0M136.3 320.9h0M139.8 325.1h0M149.1 320.5h0M137.6 322.3h0M141.8 314.1h0M147.0 319.1h0M145.9 315.1h0M147.2 315.0h0M146.7 314.0h0M148.9 320.0h0M136.6 320.8h0M144.5 316.5h0M140.9 323.5h0M142.6 312.1h0M141.1 324.3h0M65.6 340.1h0M62.4 347.6h0M67.4 341.7h0M53.7 341.6h0M59.1 343.2h0M72.2 344.5h0M64.8 340.4h0M56.5 342.4h0M61.5 347.9h0M60.7 341.3h0M69.3 343.2h0M57.0 346.1h0M61.3 339.4h0M64.7 344.3h0M61.1 344.9h0M67.5 340.6h0M56.5 339.2h0M62.3 346.4h0M68.0 346.5h0M71.9 343.0h0M68.0 339.4h0M66.9 344.1h0M79.5 348.3h0M84.9 346.8h0M84.5 335.5h0M90.9 338.9h0M84.3 335.5h0M86.0 339.4h0M86.3 344.3h0M81.8 332.6h0M87.2 348.7h0M88.4 334.0h0M88.0 344.8h0M86.4 345.0h0M83.5 343.4h0M89.7 338.3h0M78.1 341.3h0M85.8 330.6h0M81.6 346.3h0M84.4 342.5h0M79.1 348.1h0M92.7 340.7h0M81.5 333.9h0M89.5 342.8h0M81.2 350.3h0M88.9 346.4h0M77.2 341.3h0M88.0 333.5h0M89.2 351.2h0M90.1 336.9h0M81.5 348.8h0M89.6 350.2h0M91.0 341.3h0M83.3 330.6h0M87.8 353.9h0M82.7 338.6h0M88.3 344.7h0M78.6 337.2h0M80.9 352.9h0M81.4 348.2h0M91.3 351.0h0M90.6 351.2h0M78.9 339.6h0M38.4 358.8h0M54.0 368.5h0M51.8 368.3h0M47.1 363.0h0M47.2 368.2h0M46.2 364.8h0M54.0 357.1h0M42.8 366.5h0M45.7 362.2h0M56.2 365.0h0M44.7 369.7h0M56.0 358.6h0M43.3 363.7h0M44.3 373.0h0M49.9 360.6h0M49.8 358.1h0M43.7 363.6h0M54.3 355.5h0M49.2 370.9h0M50.3 372.5h0M49.4 363.8h0M46.3 357.7h0M54.4 357.1h0M46.3 359.9h0M43.8 353.0h0M45.0 363.8h0M47.8 368.2h0M46.1 359.1h0M48.7 367.1h0M42.6 354.8h0M41.6 369.1h0M52.4 357.7h0M47.6 368.2h0M54.0 359.2h0M166.6 386.6h0M172.3 378.2h0M145.3 362.8h0M155.5 390.2h0M171.2 382.8h0M164.4 387.9h0M165.8 387.9h0M165.1 359.5h0M171.8 380.0h0M146.7 385.8h0M172.1 371.2h0M140.4 375.1h0M172.5 372.7h0M141.1 378.6h0M172.2 377.8h0M169.0 364.1h0M144.6 383.9h0M143.3 381.1h0M173.6 377.6h0M158.4 357.5h0M159.0 389.6h0M142.1 369.0h0M140.6 378.0h0M146.6 386.0h0M156.3 369.8h0M148.1 377.5h0M148.6 377.7h0M153.8 377.1h0M155.0 378.0h0M154.3 375.6h0M154.0 377.9h0M151.5 377.5h0M158.5 372.7h0M154.9 357.8h0M158.0 360.2h0M154.6 361.3h0M141.4 363.0h0M142.9 372.7h0M141.3 363.0h0M108.1 383.4h0M101.6 386.0h0M103.5 384.2h0M99.9 384.5h0M107.1 386.7h0M104.1 383.6h0M101.4 385.4h0M107.3 386.1h0M102.3 377.4h0M103.8 381.4h0M100.7 384.4h0M108.2 383.5h0M108.9 383.5h0M99.7 379.8h0M102.4 384.7h0M108.1 382.5h0M108.4 378.9h0M103.5 387.4h0M106.0 386.0h0M98.2 377.5h0M100.3 385.8h0M110.4 379.9h0M99.9 378.3h0M100.1 384.2h0M102.8 388.2h0M164.0 263.7h0M172.0 265.3h0M165.8 271.3h0M167.1 271.2h0M167.4 260.8h0M174.2 264.6h0M171.4 270.4h0M164.8 266.3h0M167.1 268.4h0M169.0 261.3h0M169.2 268.9h0M168.1 268.1h0M167.3 265.8h0M170.1 266.5h0M172.9 269.4h0M171.8 268.8h0M169.5 261.6h0M171.9 271.5h0M169.7 265.2h0M171.8 404.5h0M127.4 252.2h0M126.3 253.6h0M128.1 252.0h0" stroke="#4e1310" stroke-width="1.2" stroke-linecap="round" fill="none" opacity="1.0"/>
<path d="M79.4 269.9h0M74.0 272.5h0M75.6 268.8h0M76.0 271.7h0M77.2 276.2h0M70.7 267.7h0M74.5 275.4h0M78.8 270.4h0M73.2 275.6h0M71.3 273.6h0M70.9 268.9h0M63.6 270.1h0M73.1 280.9h0M75.5 278.6h0M74.6 276.8h0M70.9 277.3h0M79.2 270.8h0M66.4 282.1h0M71.3 278.5h0M74.9 265.9h0M78.6 278.9h0M70.9 277.1h0M70.6 267.0h0M69.2 274.6h0M76.4 276.7h0M70.2 280.5h0M65.1 277.4h0M76.6 270.7h0M60.8 268.0h0M71.2 275.6h0M77.9 267.2h0M69.8 276.4h0M69.1 261.9h0M73.3 282.6h0M75.7 267.1h0M67.4 273.8h0M80.2 275.1h0M70.4 281.3h0M69.4 282.2h0M65.6 269.6h0M73.9 280.5h0M73.8 274.3h0M60.5 268.9h0M66.0 269.2h0M68.1 280.8h0M68.8 287.8h0M67.3 286.8h0M69.5 289.1h0M67.2 283.5h0M67.6 290.5h0M71.4 285.6h0M38.6 311.7h0M36.0 282.5h0M29.6 286.5h0M29.1 306.9h0M51.3 289.1h0M53.6 290.5h0M49.9 308.0h0M30.1 285.5h0M30.5 307.8h0M51.1 286.0h0M53.5 291.8h0M32.8 285.2h0M37.9 281.2h0M31.5 284.7h0M43.9 312.8h0M55.3 295.0h0M26.4 293.3h0M34.2 311.7h0M48.8 285.3h0M52.4 304.5h0M26.7 292.0h0M27.7 298.1h0M45.2 283.8h0M44.5 283.3h0M33.1 310.8h0M48.8 308.1h0M46.2 295.3h0M41.7 289.0h0M45.5 294.6h0M38.9 294.8h0M39.3 294.9h0M44.4 296.3h0M44.6 295.6h0M40.2 293.5h0M42.3 294.1h0M44.9 297.4h0M47.2 289.1h0M45.3 294.3h0M49.4 297.6h0M39.1 296.4h0M42.3 298.9h0M40.5 294.6h0M37.7 309.3h0M34.9 311.8h0M42.7 310.1h0M33.7 308.0h0M39.0 313.4h0M35.7 308.5h0M34.6 307.9h0M101.2 305.3h0M100.7 305.6h0M86.9 293.8h0M105.8 295.8h0M83.2 297.1h0M87.6 304.3h0M88.3 291.7h0M92.4 306.8h0M92.0 305.4h0M95.3 305.8h0M101.8 305.6h0M85.2 304.1h0M94.9 291.2h0M107.8 297.9h0M106.4 302.4h0M84.5 302.0h0M105.9 297.2h0M84.4 300.8h0M85.8 304.3h0M88.6 304.5h0M87.9 297.5h0M89.2 302.6h0M89.4 298.5h0M143.3 320.0h0M144.4 329.5h0M146.3 324.3h0M142.0 314.1h0M142.5 324.9h0M138.9 328.4h0M141.6 324.0h0M141.6 315.2h0M149.7 317.3h0M147.1 318.9h0M144.3 317.5h0M141.1 327.2h0M149.8 318.3h0M143.0 327.3h0M140.2 326.0h0M68.7 345.5h0M63.6 341.3h0M68.7 344.2h0M54.9 340.6h0M65.5 343.3h0M64.6 344.8h0M63.7 347.1h0M59.7 341.9h0M64.8 345.1h0M66.9 346.7h0M60.4 346.2h0M86.3 334.7h0M86.8 340.5h0M86.6 337.6h0M79.2 339.7h0M89.4 351.7h0M83.4 347.8h0M88.8 344.9h0M77.8 344.2h0M80.5 349.9h0M89.0 346.5h0M76.4 345.0h0M88.3 333.2h0M89.9 342.6h0M84.1 336.8h0M79.9 338.9h0M93.9 342.9h0M86.0 337.3h0M81.9 338.0h0M80.6 348.2h0M83.6 348.3h0M48.9 369.5h0M50.5 367.8h0M43.9 361.4h0M42.7 362.4h0M42.4 360.7h0M46.2 361.9h0M45.6 360.1h0M54.0 361.0h0M41.3 364.2h0M41.3 356.9h0M47.4 353.8h0M37.1 364.0h0M51.8 354.5h0M42.0 366.5h0M38.4 358.8h0M40.4 361.8h0M38.4 367.3h0M46.3 364.6h0M45.6 352.8h0M46.2 355.1h0M47.1 357.7h0M45.4 361.8h0M51.3 367.7h0M41.4 362.9h0M54.6 365.8h0M42.9 362.3h0M45.1 368.8h0M47.2 365.1h0M55.3 357.3h0M42.4 354.3h0M39.3 367.6h0M48.5 372.0h0M144.4 385.2h0M141.4 374.0h0M141.6 368.3h0M146.6 386.7h0M160.3 358.2h0M140.3 373.4h0M150.5 359.2h0M171.9 369.3h0M159.9 358.7h0M144.8 364.1h0M141.5 380.1h0M160.8 357.8h0M158.4 390.1h0M159.9 390.0h0M141.6 374.1h0M143.4 364.6h0M141.9 366.6h0M163.6 388.1h0M173.0 375.8h0M142.3 380.4h0M155.6 390.6h0M172.1 381.4h0M142.3 367.2h0M161.1 358.8h0M156.9 374.1h0M152.3 371.9h0M149.9 378.3h0M156.3 368.7h0M153.8 360.6h0M163.2 360.5h0M152.5 361.2h0M154.5 359.5h0M153.1 360.1h0M158.7 359.7h0M155.1 359.4h0M154.0 360.7h0M153.5 359.3h0M154.9 358.6h0M142.6 368.8h0M144.4 368.7h0M140.5 365.9h0M143.7 367.6h0M106.2 379.9h0M102.8 380.8h0M100.0 383.7h0M171.6 269.5h0M167.9 269.5h0M170.8 265.7h0M169.8 268.6h0M168.0 263.4h0M173.1 266.0h0M167.1 267.8h0M164.4 266.2h0M164.7 264.4h0M172.6 404.6h0M173.6 405.7h0M169.8 404.3h0M174.8 405.4h0M172.5 404.2h0M130.6 251.2h0M130.1 252.5h0" stroke="#8e241e" stroke-width="1.3" stroke-linecap="round" fill="none" opacity="1.0"/>
<path d="M62.5 274.8h0M75.9 269.4h0M61.9 272.1h0M72.7 279.2h0M63.3 265.6h0M74.2 275.4h0M77.9 277.7h0M69.3 271.1h0M80.5 271.3h0M65.2 265.8h0M70.2 273.2h0M67.9 272.2h0M71.5 276.7h0M76.5 273.8h0M60.6 276.1h0M61.5 271.5h0M61.3 272.5h0M65.0 273.8h0M80.8 272.3h0M74.6 265.0h0M68.0 276.6h0M69.3 274.6h0M70.4 266.3h0M73.3 267.5h0M70.6 283.9h0M67.3 284.7h0M70.7 288.7h0M70.9 281.8h0M48.6 307.9h0M31.0 286.0h0M30.8 285.6h0M45.8 281.7h0M35.2 283.7h0M27.5 299.3h0M54.3 298.0h0M37.6 282.9h0M43.7 288.9h0M46.4 293.0h0M41.7 301.1h0M45.2 301.9h0M45.3 293.7h0M44.3 300.7h0M43.9 296.6h0M45.7 291.4h0M44.4 293.1h0M40.1 298.2h0M44.6 308.0h0M35.4 307.2h0M38.5 308.0h0M94.9 307.3h0M83.9 296.0h0M106.6 296.8h0M107.1 298.2h0M98.9 291.7h0M84.9 293.6h0M107.3 301.0h0M87.1 301.7h0M91.4 304.0h0M144.5 323.0h0M138.3 319.5h0M141.5 317.7h0M64.7 345.8h0M60.4 347.7h0M67.5 343.9h0M84.6 339.0h0M79.4 343.0h0M91.2 339.4h0M87.7 337.2h0M42.9 361.2h0M55.4 357.1h0M50.0 355.7h0M53.4 369.8h0M44.8 373.0h0M47.4 370.8h0M48.7 359.6h0M45.1 362.3h0M50.4 363.8h0M56.6 362.1h0M44.4 358.6h0M43.1 355.0h0M41.7 368.4h0M47.3 362.2h0M154.2 390.2h0M171.3 383.1h0M141.9 379.9h0M141.9 371.0h0M144.2 364.7h0M156.9 390.7h0M170.5 382.2h0M157.6 358.3h0M154.0 390.0h0M163.5 389.5h0M172.3 372.8h0M140.9 378.0h0M158.1 372.3h0M158.2 358.9h0M154.7 359.8h0M154.3 358.4h0M155.9 359.7h0M157.6 360.4h0M149.3 360.8h0M155.1 358.5h0M154.2 360.0h0M160.4 359.0h0M156.7 357.7h0M156.7 359.4h0M141.4 369.9h0M143.2 366.2h0M142.2 371.0h0M171.4 263.4h0M169.7 265.5h0M173.4 407.1h0M174.2 404.2h0M173.1 404.5h0M173.0 404.3h0M171.6 407.3h0M175.7 403.6h0M171.1 404.9h0M172.6 403.7h0M175.4 403.6h0M175.2 406.5h0" stroke="#cc3428" stroke-width="1.45" stroke-linecap="round" fill="none" opacity="1.0"/>
</g>
</g></g>
<g clip-path="url(#cp)"><g transform="translate(317.8 0)">
<g filter="url(#b2)">
<ellipse cx="126" cy="260.5" rx="9" ry="5.3" transform="rotate(-25 126 260.5)" fill="#1a1e46"/>
<ellipse cx="31.3" cy="299.8" rx="5.8" ry="8.8" transform="rotate(15 31.3 299.8)" fill="#172058"/>
<ellipse cx="97.8" cy="297" rx="10" ry="6.2" transform="rotate(10 97.8 297)" fill="#1b2674"/>
<ellipse cx="159" cy="327" rx="7" ry="5" transform="rotate(10 159 327)" fill="#11132c"/>
<ellipse cx="59.8" cy="335.3" rx="11.5" ry="6.4" transform="rotate(5 59.8 335.3)" fill="#1f2a8c"/>
<ellipse cx="91" cy="346" rx="5" ry="6.5" transform="rotate(0 91 346)" fill="#10132e"/>
<ellipse cx="55" cy="372.4" rx="5.5" ry="4" transform="rotate(-20 55 372.4)" fill="#19236c"/>
<ellipse cx="166" cy="379.3" rx="7.5" ry="7.2" transform="rotate(0 166 379.3)" fill="#192370"/>
<ellipse cx="29.8" cy="387.8" rx="5.8" ry="8.6" transform="rotate(5 29.8 387.8)" fill="#1b267a"/>
<ellipse cx="108.5" cy="394.7" rx="10" ry="4.9" transform="rotate(12 108.5 394.7)" fill="#171f5c"/>
</g>
<g filter="url(#b4)" fill="#04050c" opacity="0.42">
<ellipse cx="126.3" cy="262.9" rx="1.4" ry="1.4" transform="rotate(-25 126 260.5)"/>
<ellipse cx="125.1" cy="260.0" rx="1.0" ry="1.6" transform="rotate(-25 126 260.5)"/>
<ellipse cx="125.9" cy="261.8" rx="2.2" ry="1.3" transform="rotate(-25 126 260.5)"/>
<ellipse cx="127.9" cy="258.6" rx="1.8" ry="1.0" transform="rotate(-25 126 260.5)"/>
<ellipse cx="122.0" cy="257.9" rx="1.6" ry="1.5" transform="rotate(-25 126 260.5)"/>
<ellipse cx="30.9" cy="298.7" rx="1.9" ry="1.4" transform="rotate(15 31.3 299.8)"/>
<ellipse cx="31.1" cy="300.8" rx="2.0" ry="1.3" transform="rotate(15 31.3 299.8)"/>
<ellipse cx="30.5" cy="294.0" rx="1.9" ry="1.7" transform="rotate(15 31.3 299.8)"/>
<ellipse cx="28.5" cy="303.1" rx="1.5" ry="1.7" transform="rotate(15 31.3 299.8)"/>
<ellipse cx="32.0" cy="298.8" rx="1.2" ry="1.0" transform="rotate(15 31.3 299.8)"/>
<ellipse cx="101.5" cy="296.5" rx="1.8" ry="1.1" transform="rotate(10 97.8 297)"/>
<ellipse cx="94.3" cy="296.9" rx="1.4" ry="1.4" transform="rotate(10 97.8 297)"/>
<ellipse cx="91.9" cy="294.8" rx="1.8" ry="1.7" transform="rotate(10 97.8 297)"/>
<ellipse cx="102.4" cy="293.4" rx="1.8" ry="1.0" transform="rotate(10 97.8 297)"/>
<ellipse cx="102.5" cy="293.5" rx="2.1" ry="1.4" transform="rotate(10 97.8 297)"/>
<ellipse cx="158.6" cy="325.8" rx="2.0" ry="1.4" transform="rotate(10 159 327)"/>
<ellipse cx="158.8" cy="327.7" rx="2.0" ry="1.8" transform="rotate(10 159 327)"/>
<ellipse cx="162.7" cy="328.6" rx="1.5" ry="1.0" transform="rotate(10 159 327)"/>
<ellipse cx="157.9" cy="329.9" rx="2.0" ry="0.8" transform="rotate(10 159 327)"/>
<ellipse cx="158.3" cy="326.6" rx="1.9" ry="1.1" transform="rotate(10 159 327)"/>
<ellipse cx="66.0" cy="332.1" rx="1.6" ry="1.8" transform="rotate(5 59.8 335.3)"/>
<ellipse cx="59.2" cy="336.2" rx="1.7" ry="0.8" transform="rotate(5 59.8 335.3)"/>
<ellipse cx="61.2" cy="337.5" rx="1.7" ry="1.0" transform="rotate(5 59.8 335.3)"/>
<ellipse cx="67.2" cy="336.4" rx="1.4" ry="1.8" transform="rotate(5 59.8 335.3)"/>
<ellipse cx="63.0" cy="334.0" rx="1.6" ry="1.3" transform="rotate(5 59.8 335.3)"/>
<ellipse cx="89.5" cy="343.5" rx="1.7" ry="1.4" transform="rotate(0 91 346)"/>
<ellipse cx="93.0" cy="345.0" rx="1.5" ry="1.5" transform="rotate(0 91 346)"/>
<ellipse cx="91.1" cy="347.9" rx="2.2" ry="1.3" transform="rotate(0 91 346)"/>
<ellipse cx="90.5" cy="345.8" rx="1.5" ry="1.4" transform="rotate(0 91 346)"/>
<ellipse cx="93.5" cy="346.4" rx="1.8" ry="0.9" transform="rotate(0 91 346)"/>
<ellipse cx="53.5" cy="371.2" rx="1.8" ry="1.2" transform="rotate(-20 55 372.4)"/>
<ellipse cx="54.1" cy="370.2" rx="1.0" ry="0.9" transform="rotate(-20 55 372.4)"/>
<ellipse cx="53.2" cy="369.8" rx="1.3" ry="1.3" transform="rotate(-20 55 372.4)"/>
<ellipse cx="53.6" cy="371.7" rx="1.4" ry="1.1" transform="rotate(-20 55 372.4)"/>
<ellipse cx="53.2" cy="373.8" rx="1.4" ry="1.2" transform="rotate(-20 55 372.4)"/>
<ellipse cx="166.1" cy="378.5" rx="1.7" ry="1.5" transform="rotate(0 166 379.3)"/>
<ellipse cx="165.3" cy="380.9" rx="2.0" ry="1.0" transform="rotate(0 166 379.3)"/>
<ellipse cx="167.1" cy="381.8" rx="1.8" ry="0.9" transform="rotate(0 166 379.3)"/>
<ellipse cx="165.0" cy="381.4" rx="2.0" ry="1.2" transform="rotate(0 166 379.3)"/>
<ellipse cx="167.0" cy="378.1" rx="1.4" ry="1.5" transform="rotate(0 166 379.3)"/>
<ellipse cx="31.5" cy="385.6" rx="1.3" ry="0.9" transform="rotate(5 29.8 387.8)"/>
<ellipse cx="28.5" cy="387.4" rx="2.0" ry="1.6" transform="rotate(5 29.8 387.8)"/>
<ellipse cx="30.5" cy="390.0" rx="2.0" ry="1.4" transform="rotate(5 29.8 387.8)"/>
<ellipse cx="30.5" cy="385.2" rx="1.2" ry="1.1" transform="rotate(5 29.8 387.8)"/>
<ellipse cx="30.2" cy="385.5" rx="1.4" ry="1.2" transform="rotate(5 29.8 387.8)"/>
<ellipse cx="105.3" cy="395.6" rx="2.1" ry="1.0" transform="rotate(12 108.5 394.7)"/>
<ellipse cx="115.6" cy="394.8" rx="2.1" ry="1.8" transform="rotate(12 108.5 394.7)"/>
<ellipse cx="101.9" cy="396.1" rx="2.1" ry="1.0" transform="rotate(12 108.5 394.7)"/>
<ellipse cx="108.3" cy="391.5" rx="1.8" ry="1.3" transform="rotate(12 108.5 394.7)"/>
<ellipse cx="107.7" cy="396.2" rx="1.3" ry="0.9" transform="rotate(12 108.5 394.7)"/>
</g>
<g filter="url(#b3)">
<ellipse cx="69.8" cy="272.5" rx="8.8" ry="8.8" fill="#a01414" opacity="0.2"/>
<ellipse cx="44" cy="295" rx="4.800000000000001" ry="5.6000000000000005" fill="#a01414" opacity="0.1"/>
<ellipse cx="95" cy="298.5" rx="10.4" ry="7.2" fill="#a01414" opacity="0.04"/>
<ellipse cx="143" cy="322" rx="6.4" ry="8.0" fill="#a01414" opacity="0.04"/>
<ellipse cx="63" cy="343" rx="8.0" ry="4.0" fill="#a01414" opacity="0.05"/>
<ellipse cx="85" cy="342" rx="7.2" ry="10.4" fill="#a01414" opacity="0.05"/>
<ellipse cx="47" cy="363" rx="8.0" ry="8.8" fill="#a01414" opacity="0.12"/>
<ellipse cx="156" cy="359.5" rx="7.2" ry="1.7600000000000002" fill="#a01414" opacity="0.1"/>
<ellipse cx="173.5" cy="405.5" rx="3.6" ry="2.0" fill="#a01414" opacity="0.5"/>
</g>
<g filter="url(#b1)">
<path d="M73.4 270.5h0M74.6 273.0h0M68.0 273.1h0M72.4 277.8h0M67.0 271.1h0M63.2 280.3h0M78.2 271.5h0M67.0 265.1h0M70.7 273.6h0M80.1 273.7h0M66.5 262.3h0M78.0 273.6h0M60.8 273.5h0M65.2 282.5h0M76.5 275.9h0M69.0 262.2h0M69.1 263.7h0M72.6 262.5h0M64.6 279.5h0M78.0 266.6h0M61.6 277.2h0M74.9 266.6h0M65.5 268.2h0M62.8 268.5h0M77.1 276.5h0M80.0 272.1h0M69.0 266.4h0M69.1 264.7h0M60.6 276.1h0M77.8 277.1h0M77.7 274.0h0M65.4 273.0h0M67.5 265.7h0M61.9 265.6h0M69.8 273.2h0M67.1 280.7h0M70.9 276.0h0M76.9 267.8h0M60.2 276.2h0M65.8 280.1h0M71.9 278.7h0M73.4 262.7h0M69.4 286.3h0M69.4 285.5h0M68.3 282.2h0M67.7 290.4h0M70.2 286.2h0M68.6 286.2h0M69.8 284.0h0M26.2 295.4h0M48.2 283.7h0M53.6 291.9h0M52.8 292.5h0M43.0 312.1h0M36.9 312.3h0M31.5 285.3h0M48.3 284.2h0M35.4 310.9h0M48.8 283.6h0M44.3 312.6h0M54.2 294.0h0M28.7 290.6h0M27.0 293.6h0M30.4 288.3h0M54.2 294.1h0M28.7 306.4h0M27.7 291.1h0M35.8 283.8h0M27.2 293.4h0M54.8 292.6h0M38.8 312.1h0M50.1 307.8h0M46.4 282.1h0M27.2 299.2h0M45.6 311.5h0M52.1 290.5h0M42.8 283.2h0M45.1 310.7h0M35.3 283.3h0M31.8 309.3h0M51.9 306.7h0M50.5 307.7h0M40.5 311.5h0M27.0 294.1h0M30.8 307.6h0M27.6 294.4h0M44.5 311.9h0M31.5 285.3h0M48.9 284.5h0M48.8 285.6h0M43.7 294.7h0M42.4 289.0h0M45.5 298.9h0M43.8 291.0h0M44.7 297.2h0M43.5 295.0h0M48.1 291.2h0M42.5 288.9h0M41.6 292.1h0M40.8 292.3h0M49.2 294.3h0M43.7 301.6h0M43.8 289.0h0M45.4 291.3h0M33.1 309.6h0M44.8 310.0h0M35.7 307.2h0M38.9 310.0h0M32.4 308.1h0M37.8 312.0h0M41.1 310.4h0M36.5 310.6h0M82.3 297.2h0M93.0 290.6h0M107.4 297.3h0M86.5 294.0h0M86.8 292.9h0M98.0 305.5h0M84.4 297.2h0M83.6 301.5h0M84.3 300.6h0M85.0 294.6h0M97.1 290.5h0M107.9 298.4h0M93.9 290.9h0M104.6 304.3h0M97.6 290.4h0M88.0 304.4h0M90.3 291.0h0M84.9 294.0h0M95.2 291.0h0M95.1 307.5h0M105.9 294.1h0M105.2 300.3h0M93.5 306.4h0M87.4 293.3h0M88.2 300.1h0M86.1 303.0h0M89.0 299.5h0M85.2 297.9h0M86.4 305.1h0M87.9 297.3h0M85.6 303.2h0M91.8 304.6h0M139.5 325.4h0M144.9 328.6h0M144.6 315.5h0M145.9 316.0h0M146.0 329.5h0M145.7 318.9h0M148.3 322.9h0M137.6 320.1h0M149.0 320.4h0M143.5 320.3h0M136.4 319.5h0M144.5 323.1h0M142.4 312.7h0M148.2 325.8h0M147.1 328.6h0M141.0 318.6h0M144.3 330.3h0M136.3 320.9h0M139.8 325.1h0M149.1 320.5h0M137.6 322.3h0M141.8 314.1h0M147.0 319.1h0M145.9 315.1h0M147.2 315.0h0M146.7 314.0h0M148.9 320.0h0M136.6 320.8h0M144.5 316.5h0M140.9 323.5h0M142.6 312.1h0M141.1 324.3h0M65.6 340.1h0M62.4 347.6h0M67.4 341.7h0M53.7 341.6h0M59.1 343.2h0M72.2 344.5h0M64.8 340.4h0M56.5 342.4h0M61.5 347.9h0M60.7 341.3h0M69.3 343.2h0M57.0 346.1h0M61.3 339.4h0M64.7 344.3h0M61.1 344.9h0M67.5 340.6h0M56.5 339.2h0M62.3 346.4h0M68.0 346.5h0M71.9 343.0h0M68.0 339.4h0M66.9 344.1h0M79.5 348.3h0M84.9 346.8h0M84.5 335.5h0M90.9 338.9h0M84.3 335.5h0M86.0 339.4h0M86.3 344.3h0M81.8 332.6h0M87.2 348.7h0M88.4 334.0h0M88.0 344.8h0M86.4 345.0h0M83.5 343.4h0M89.7 338.3h0M78.1 341.3h0M85.8 330.6h0M81.6 346.3h0M84.4 342.5h0M79.1 348.1h0M92.7 340.7h0M81.5 333.9h0M89.5 342.8h0M81.2 350.3h0M88.9 346.4h0M77.2 341.3h0M88.0 333.5h0M89.2 351.2h0M90.1 336.9h0M81.5 348.8h0M89.6 350.2h0M91.0 341.3h0M83.3 330.6h0M87.8 353.9h0M82.7 338.6h0M88.3 344.7h0M78.6 337.2h0M80.9 352.9h0M81.4 348.2h0M91.3 351.0h0M90.6 351.2h0M78.9 339.6h0M38.4 358.8h0M54.0 368.5h0M51.8 368.3h0M47.1 363.0h0M47.2 368.2h0M46.2 364.8h0M54.0 357.1h0M42.8 366.5h0M45.7 362.2h0M56.2 365.0h0M44.7 369.7h0M56.0 358.6h0M43.3 363.7h0M44.3 373.0h0M49.9 360.6h0M49.8 358.1h0M43.7 363.6h0M54.3 355.5h0M49.2 370.9h0M50.3 372.5h0M49.4 363.8h0M46.3 357.7h0M54.4 357.1h0M46.3 359.9h0M43.8 353.0h0M45.0 363.8h0M47.8 368.2h0M46.1 359.1h0M48.7 367.1h0M42.6 354.8h0M41.6 369.1h0M52.4 357.7h0M47.6 368.2h0M54.0 359.2h0M166.6 386.6h0M172.3 378.2h0M145.3 362.8h0M155.5 390.2h0M171.2 382.8h0M164.4 387.9h0M165.8 387.9h0M165.1 359.5h0M171.8 380.0h0M146.7 385.8h0M172.1 371.2h0M140.4 375.1h0M172.5 372.7h0M141.1 378.6h0M172.2 377.8h0M169.0 364.1h0M144.6 383.9h0M143.3 381.1h0M173.6 377.6h0M158.4 357.5h0M159.0 389.6h0M142.1 369.0h0M140.6 378.0h0M146.6 386.0h0M156.3 369.8h0M148.1 377.5h0M148.6 377.7h0M153.8 377.1h0M155.0 378.0h0M154.3 375.6h0M154.0 377.9h0M151.5 377.5h0M158.5 372.7h0M154.9 357.8h0M158.0 360.2h0M154.6 361.3h0M141.4 363.0h0M142.9 372.7h0M141.3 363.0h0M108.1 383.4h0M101.6 386.0h0M103.5 384.2h0M99.9 384.5h0M107.1 386.7h0M104.1 383.6h0M101.4 385.4h0M107.3 386.1h0M102.3 377.4h0M103.8 381.4h0M100.7 384.4h0M108.2 383.5h0M108.9 383.5h0M99.7 379.8h0M102.4 384.7h0M108.1 382.5h0M108.4 378.9h0M103.5 387.4h0M106.0 386.0h0M98.2 377.5h0M100.3 385.8h0M110.4 379.9h0M99.9 378.3h0M100.1 384.2h0M102.8 388.2h0M164.0 263.7h0M172.0 265.3h0M165.8 271.3h0M167.1 271.2h0M167.4 260.8h0M174.2 264.6h0M171.4 270.4h0M164.8 266.3h0M167.1 268.4h0M169.0 261.3h0M169.2 268.9h0M168.1 268.1h0M167.3 265.8h0M170.1 266.5h0M172.9 269.4h0M171.8 268.8h0M169.5 261.6h0M171.9 271.5h0M169.7 265.2h0M171.8 404.5h0M127.4 252.2h0M126.3 253.6h0M128.1 252.0h0" stroke="#4e1310" stroke-width="1.2" stroke-linecap="round" fill="none" opacity="1.0"/>
<path d="M79.4 269.9h0M74.0 272.5h0M75.6 268.8h0M76.0 271.7h0M77.2 276.2h0M70.7 267.7h0M74.5 275.4h0M78.8 270.4h0M73.2 275.6h0M71.3 273.6h0M70.9 268.9h0M63.6 270.1h0M73.1 280.9h0M75.5 278.6h0M74.6 276.8h0M70.9 277.3h0M79.2 270.8h0M66.4 282.1h0M71.3 278.5h0M74.9 265.9h0M78.6 278.9h0M70.9 277.1h0M70.6 267.0h0M69.2 274.6h0M76.4 276.7h0M70.2 280.5h0M65.1 277.4h0M76.6 270.7h0M60.8 268.0h0M71.2 275.6h0M77.9 267.2h0M69.8 276.4h0M69.1 261.9h0M73.3 282.6h0M75.7 267.1h0M67.4 273.8h0M80.2 275.1h0M70.4 281.3h0M69.4 282.2h0M65.6 269.6h0M73.9 280.5h0M73.8 274.3h0M60.5 268.9h0M66.0 269.2h0M68.1 280.8h0M68.8 287.8h0M67.3 286.8h0M69.5 289.1h0M67.2 283.5h0M67.6 290.5h0M71.4 285.6h0M38.6 311.7h0M36.0 282.5h0M29.6 286.5h0M29.1 306.9h0M51.3 289.1h0M53.6 290.5h0M49.9 308.0h0M30.1 285.5h0M30.5 307.8h0M51.1 286.0h0M53.5 291.8h0M32.8 285.2h0M37.9 281.2h0M31.5 284.7h0M43.9 312.8h0M55.3 295.0h0M26.4 293.3h0M34.2 311.7h0M48.8 285.3h0M52.4 304.5h0M26.7 292.0h0M27.7 298.1h0M45.2 283.8h0M44.5 283.3h0M33.1 310.8h0M48.8 308.1h0M46.2 295.3h0M41.7 289.0h0M45.5 294.6h0M38.9 294.8h0M39.3 294.9h0M44.4 296.3h0M44.6 295.6h0M40.2 293.5h0M42.3 294.1h0M44.9 297.4h0M47.2 289.1h0M45.3 294.3h0M49.4 297.6h0M39.1 296.4h0M42.3 298.9h0M40.5 294.6h0M37.7 309.3h0M34.9 311.8h0M42.7 310.1h0M33.7 308.0h0M39.0 313.4h0M35.7 308.5h0M34.6 307.9h0M101.2 305.3h0M100.7 305.6h0M86.9 293.8h0M105.8 295.8h0M83.2 297.1h0M87.6 304.3h0M88.3 291.7h0M92.4 306.8h0M92.0 305.4h0M95.3 305.8h0M101.8 305.6h0M85.2 304.1h0M94.9 291.2h0M107.8 297.9h0M106.4 302.4h0M84.5 302.0h0M105.9 297.2h0M84.4 300.8h0M85.8 304.3h0M88.6 304.5h0M87.9 297.5h0M89.2 302.6h0M89.4 298.5h0M143.3 320.0h0M144.4 329.5h0M146.3 324.3h0M142.0 314.1h0M142.5 324.9h0M138.9 328.4h0M141.6 324.0h0M141.6 315.2h0M149.7 317.3h0M147.1 318.9h0M144.3 317.5h0M141.1 327.2h0M149.8 318.3h0M143.0 327.3h0M140.2 326.0h0M68.7 345.5h0M63.6 341.3h0M68.7 344.2h0M54.9 340.6h0M65.5 343.3h0M64.6 344.8h0M63.7 347.1h0M59.7 341.9h0M64.8 345.1h0M66.9 346.7h0M60.4 346.2h0M86.3 334.7h0M86.8 340.5h0M86.6 337.6h0M79.2 339.7h0M89.4 351.7h0M83.4 347.8h0M88.8 344.9h0M77.8 344.2h0M80.5 349.9h0M89.0 346.5h0M76.4 345.0h0M88.3 333.2h0M89.9 342.6h0M84.1 336.8h0M79.9 338.9h0M93.9 342.9h0M86.0 337.3h0M81.9 338.0h0M80.6 348.2h0M83.6 348.3h0M48.9 369.5h0M50.5 367.8h0M43.9 361.4h0M42.7 362.4h0M42.4 360.7h0M46.2 361.9h0M45.6 360.1h0M54.0 361.0h0M41.3 364.2h0M41.3 356.9h0M47.4 353.8h0M37.1 364.0h0M51.8 354.5h0M42.0 366.5h0M38.4 358.8h0M40.4 361.8h0M38.4 367.3h0M46.3 364.6h0M45.6 352.8h0M46.2 355.1h0M47.1 357.7h0M45.4 361.8h0M51.3 367.7h0M41.4 362.9h0M54.6 365.8h0M42.9 362.3h0M45.1 368.8h0M47.2 365.1h0M55.3 357.3h0M42.4 354.3h0M39.3 367.6h0M48.5 372.0h0M144.4 385.2h0M141.4 374.0h0M141.6 368.3h0M146.6 386.7h0M160.3 358.2h0M140.3 373.4h0M150.5 359.2h0M171.9 369.3h0M159.9 358.7h0M144.8 364.1h0M141.5 380.1h0M160.8 357.8h0M158.4 390.1h0M159.9 390.0h0M141.6 374.1h0M143.4 364.6h0M141.9 366.6h0M163.6 388.1h0M173.0 375.8h0M142.3 380.4h0M155.6 390.6h0M172.1 381.4h0M142.3 367.2h0M161.1 358.8h0M156.9 374.1h0M152.3 371.9h0M149.9 378.3h0M156.3 368.7h0M153.8 360.6h0M163.2 360.5h0M152.5 361.2h0M154.5 359.5h0M153.1 360.1h0M158.7 359.7h0M155.1 359.4h0M154.0 360.7h0M153.5 359.3h0M154.9 358.6h0M142.6 368.8h0M144.4 368.7h0M140.5 365.9h0M143.7 367.6h0M106.2 379.9h0M102.8 380.8h0M100.0 383.7h0M171.6 269.5h0M167.9 269.5h0M170.8 265.7h0M169.8 268.6h0M168.0 263.4h0M173.1 266.0h0M167.1 267.8h0M164.4 266.2h0M164.7 264.4h0M172.6 404.6h0M173.6 405.7h0M169.8 404.3h0M174.8 405.4h0M172.5 404.2h0M130.6 251.2h0M130.1 252.5h0" stroke="#8e241e" stroke-width="1.3" stroke-linecap="round" fill="none" opacity="1.0"/>
<path d="M62.5 274.8h0M75.9 269.4h0M61.9 272.1h0M72.7 279.2h0M63.3 265.6h0M74.2 275.4h0M77.9 277.7h0M69.3 271.1h0M80.5 271.3h0M65.2 265.8h0M70.2 273.2h0M67.9 272.2h0M71.5 276.7h0M76.5 273.8h0M60.6 276.1h0M61.5 271.5h0M61.3 272.5h0M65.0 273.8h0M80.8 272.3h0M74.6 265.0h0M68.0 276.6h0M69.3 274.6h0M70.4 266.3h0M73.3 267.5h0M70.6 283.9h0M67.3 284.7h0M70.7 288.7h0M70.9 281.8h0M48.6 307.9h0M31.0 286.0h0M30.8 285.6h0M45.8 281.7h0M35.2 283.7h0M27.5 299.3h0M54.3 298.0h0M37.6 282.9h0M43.7 288.9h0M46.4 293.0h0M41.7 301.1h0M45.2 301.9h0M45.3 293.7h0M44.3 300.7h0M43.9 296.6h0M45.7 291.4h0M44.4 293.1h0M40.1 298.2h0M44.6 308.0h0M35.4 307.2h0M38.5 308.0h0M94.9 307.3h0M83.9 296.0h0M106.6 296.8h0M107.1 298.2h0M98.9 291.7h0M84.9 293.6h0M107.3 301.0h0M87.1 301.7h0M91.4 304.0h0M144.5 323.0h0M138.3 319.5h0M141.5 317.7h0M64.7 345.8h0M60.4 347.7h0M67.5 343.9h0M84.6 339.0h0M79.4 343.0h0M91.2 339.4h0M87.7 337.2h0M42.9 361.2h0M55.4 357.1h0M50.0 355.7h0M53.4 369.8h0M44.8 373.0h0M47.4 370.8h0M48.7 359.6h0M45.1 362.3h0M50.4 363.8h0M56.6 362.1h0M44.4 358.6h0M43.1 355.0h0M41.7 368.4h0M47.3 362.2h0M154.2 390.2h0M171.3 383.1h0M141.9 379.9h0M141.9 371.0h0M144.2 364.7h0M156.9 390.7h0M170.5 382.2h0M157.6 358.3h0M154.0 390.0h0M163.5 389.5h0M172.3 372.8h0M140.9 378.0h0M158.1 372.3h0M158.2 358.9h0M154.7 359.8h0M154.3 358.4h0M155.9 359.7h0M157.6 360.4h0M149.3 360.8h0M155.1 358.5h0M154.2 360.0h0M160.4 359.0h0M156.7 357.7h0M156.7 359.4h0M141.4 369.9h0M143.2 366.2h0M142.2 371.0h0M171.4 263.4h0M169.7 265.5h0M173.4 407.1h0M174.2 404.2h0M173.1 404.5h0M173.0 404.3h0M171.6 407.3h0M175.7 403.6h0M171.1 404.9h0M172.6 403.7h0M175.4 403.6h0M175.2 406.5h0" stroke="#cc3428" stroke-width="1.45" stroke-linecap="round" fill="none" opacity="1.0"/>
</g>
<g filter="url(#b3)">
<ellipse cx="67.5" cy="275" rx="7.6000000000000005" ry="10.8" fill="#2a8a20" opacity="0.15"/>
<ellipse cx="43" cy="297" rx="9.600000000000001" ry="9.200000000000001" fill="#2a8a20" opacity="0.2"/>
<ellipse cx="90.5" cy="299.5" rx="4.0" ry="4.0" fill="#2a8a20" opacity="0.1"/>
<ellipse cx="65.5" cy="342.5" rx="4.800000000000001" ry="2.64" fill="#2a8a20" opacity="0.2"/>
<ellipse cx="85" cy="342" rx="6.4" ry="9.600000000000001" fill="#2a8a20" opacity="0.15"/>
<ellipse cx="47" cy="361.5" rx="7.6000000000000005" ry="8.4" fill="#2a8a20" opacity="0.45"/>
<ellipse cx="157" cy="374" rx="12.8" ry="12.8" fill="#2a8a20" opacity="0.22"/>
<ellipse cx="164" cy="362" rx="5.6000000000000005" ry="2.8000000000000003" fill="#2a8a20" opacity="0.15"/>
</g>
<g filter="url(#b1)">
<path d="M65.1 282.9h0M67.0 272.8h0M68.4 274.8h0M67.5 262.8h0M75.6 276.3h0M63.0 282.2h0M68.9 275.1h0M71.4 286.9h0M70.1 285.7h0M75.8 269.4h0M64.7 280.9h0M59.5 273.2h0M73.7 282.1h0M70.0 263.2h0M76.4 278.0h0M71.6 278.8h0M60.6 266.8h0M62.7 285.9h0M63.1 273.2h0M66.2 279.2h0M70.1 277.0h0M64.0 262.5h0M68.3 276.8h0M73.9 274.2h0M64.3 278.1h0M60.5 268.3h0M62.2 277.2h0M76.0 279.4h0M73.5 276.8h0M68.9 271.8h0M66.4 262.0h0M61.9 266.5h0M71.9 280.0h0M35.7 290.1h0M36.6 289.9h0M46.8 297.6h0M34.4 300.2h0M44.8 305.9h0M41.9 295.8h0M38.3 297.8h0M46.2 298.1h0M41.3 300.6h0M43.5 298.4h0M36.6 298.4h0M36.4 291.6h0M43.9 307.8h0M49.9 297.0h0M41.8 303.5h0M51.0 303.8h0M41.9 298.0h0M40.9 295.3h0M37.1 295.4h0M32.8 291.5h0M45.9 290.9h0M46.5 288.9h0M40.6 299.5h0M36.1 292.4h0M54.3 294.0h0M38.1 293.2h0M43.1 296.9h0M49.6 302.1h0M40.3 294.7h0M35.3 289.2h0M37.9 301.8h0M43.8 302.3h0M49.5 295.9h0M54.0 294.4h0M38.7 294.2h0M50.7 296.1h0M37.9 299.9h0M50.7 296.3h0M41.3 304.1h0M49.4 302.9h0M37.7 298.9h0M45.1 287.0h0M51.1 297.6h0M41.3 307.9h0M28.2 291.1h0M30.0 292.7h0M93.1 297.3h0M94.8 299.9h0M87.3 301.1h0M89.5 295.9h0M85.8 300.0h0M88.4 301.3h0M91.6 298.0h0M89.5 297.8h0M89.7 297.1h0M104.5 302.1h0M144.4 315.8h0M148.6 321.9h0M149.9 320.1h0M142.7 320.0h0M144.5 318.7h0M138.9 315.6h0M142.5 319.0h0M141.2 327.4h0M62.4 341.3h0M68.5 341.8h0M70.0 343.4h0M68.1 344.5h0M59.8 342.4h0M61.3 341.7h0M65.2 344.8h0M65.4 345.3h0M88.9 337.1h0M85.0 341.9h0M77.7 344.1h0M81.5 337.2h0M83.1 342.6h0M86.4 345.2h0M81.9 346.7h0M86.8 339.5h0M84.9 347.4h0M86.9 346.7h0M85.5 349.6h0M92.5 344.3h0M79.8 350.5h0M82.6 333.3h0M77.4 344.0h0M89.6 348.3h0M83.4 351.1h0M84.7 338.1h0M85.2 343.2h0M85.2 344.5h0M78.6 348.9h0M82.4 346.4h0M81.4 343.1h0M84.3 332.3h0M86.7 346.2h0M81.4 331.8h0M82.1 336.4h0M85.3 341.9h0M91.4 345.8h0M46.0 353.2h0M46.1 370.7h0M45.0 363.5h0M49.9 362.9h0M46.4 369.7h0M46.6 363.4h0M47.6 354.2h0M48.5 361.8h0M50.4 365.5h0M52.9 353.7h0M44.1 358.8h0M42.4 363.9h0M46.7 362.1h0M39.7 356.8h0M46.7 359.1h0M43.9 360.8h0M45.5 355.3h0M54.6 358.1h0M50.4 365.0h0M52.1 358.2h0M41.8 364.0h0M48.0 351.5h0M37.9 359.4h0M45.1 360.0h0M49.2 355.9h0M55.9 364.8h0M53.6 363.0h0M38.3 362.6h0M44.1 364.0h0M46.4 365.3h0M42.4 359.4h0M152.2 387.1h0M145.7 363.1h0M164.4 387.0h0M158.4 360.3h0M170.6 379.7h0M164.6 360.3h0M155.0 359.8h0M143.9 380.6h0M168.6 366.1h0M154.1 388.6h0M170.4 371.2h0M170.2 376.6h0M143.3 368.3h0M162.5 386.5h0M144.6 365.6h0M151.4 359.8h0M170.4 379.5h0M165.1 360.3h0M150.5 388.2h0M147.3 361.5h0M159.0 389.0h0M164.8 361.8h0M168.0 382.1h0M164.4 385.1h0M165.6 386.2h0M148.3 380.7h0M143.3 374.3h0M157.2 373.2h0M155.6 364.2h0M154.1 377.0h0M148.7 374.8h0M154.1 362.7h0M150.9 377.8h0M145.4 374.1h0M157.1 365.7h0M153.3 379.9h0M159.6 367.5h0M161.7 376.2h0M155.7 383.3h0M159.8 376.4h0M161.2 378.3h0M163.2 373.2h0M146.3 381.5h0M159.4 363.0h0M168.4 360.5h0M163.4 361.7h0M169.9 362.4h0M98.7 384.1h0M103.2 374.4h0M106.1 384.1h0M97.8 382.8h0M105.3 379.9h0M100.6 381.3h0M100.3 380.5h0M102.2 378.6h0M169.1 266.5h0M171.3 260.8h0M167.8 265.0h0M169.4 271.7h0M169.5 265.7h0M170.2 269.3h0M30.9 383.2h0" stroke="#1c5416" stroke-width="1.25" stroke-linecap="round" fill="none" opacity="1.0"/>
<path d="M65.8 287.6h0M67.8 270.7h0M68.3 271.2h0M65.5 272.5h0M76.2 275.1h0M68.4 280.0h0M76.2 273.6h0M65.2 287.8h0M60.3 272.4h0M70.1 287.5h0M64.1 262.7h0M71.0 271.0h0M65.5 278.4h0M68.6 277.0h0M65.3 284.4h0M75.0 275.2h0M65.1 280.6h0M70.0 267.2h0M36.3 304.6h0M44.5 287.9h0M37.8 288.7h0M36.7 304.0h0M41.5 304.2h0M44.2 287.9h0M39.8 307.7h0M38.0 290.4h0M51.2 297.6h0M43.0 306.0h0M32.7 299.3h0M36.7 289.0h0M37.7 304.2h0M42.2 286.8h0M36.7 305.4h0M49.5 290.3h0M54.5 295.3h0M35.0 296.1h0M48.4 305.9h0M50.0 294.2h0M39.5 288.2h0M42.5 293.2h0M44.6 288.9h0M39.4 291.2h0M31.9 293.8h0M28.0 292.0h0M87.9 300.1h0M90.4 295.9h0M92.6 300.0h0M85.9 300.8h0M96.8 303.2h0M106.7 293.8h0M143.5 319.8h0M143.8 327.1h0M68.1 343.6h0M66.4 342.7h0M61.1 341.3h0M66.7 341.8h0M62.8 343.2h0M87.3 343.2h0M91.0 339.2h0M85.4 345.1h0M91.1 340.4h0M86.0 338.8h0M82.0 337.5h0M85.4 348.0h0M81.9 337.9h0M83.2 344.3h0M88.0 334.0h0M86.6 335.3h0M88.2 335.6h0M80.3 337.3h0M84.7 335.3h0M85.8 342.8h0M85.3 343.5h0M53.1 357.9h0M49.3 358.3h0M53.4 362.3h0M40.3 362.1h0M41.9 367.0h0M45.6 351.7h0M45.0 367.5h0M48.7 357.8h0M50.4 364.9h0M53.9 366.2h0M49.0 356.9h0M48.4 363.1h0M47.1 363.8h0M40.9 364.7h0M47.0 363.4h0M46.6 360.0h0M48.4 366.1h0M45.4 363.3h0M42.9 364.0h0M47.1 354.2h0M52.8 356.6h0M47.4 354.1h0M39.2 364.8h0M41.8 353.0h0M142.0 370.5h0M147.3 385.3h0M150.7 360.8h0M154.2 387.0h0M169.1 381.4h0M143.6 366.6h0M153.9 360.3h0M169.6 368.0h0M154.2 361.0h0M157.3 359.0h0M172.1 369.8h0M151.1 359.6h0M155.9 359.2h0M160.7 388.1h0M168.0 365.6h0M171.5 371.7h0M146.7 382.1h0M146.5 382.7h0M148.0 361.1h0M169.6 366.0h0M146.8 382.8h0M151.5 360.4h0M153.9 360.1h0M167.4 365.0h0M165.4 368.6h0M146.7 365.7h0M157.3 375.8h0M159.1 375.8h0M149.8 379.3h0M150.8 365.0h0M160.9 377.4h0M148.7 372.2h0M161.4 379.9h0M165.4 365.4h0M159.9 362.8h0M166.7 362.8h0M169.3 361.2h0M162.9 362.0h0M159.3 363.9h0M98.3 382.9h0M105.6 375.0h0M170.5 269.2h0M171.5 267.5h0M172.7 262.7h0M26.0 383.4h0" stroke="#369028" stroke-width="1.4" stroke-linecap="round" fill="none" opacity="1.0"/>
<path d="M61.8 267.2h0M70.1 262.5h0M66.9 262.2h0M73.3 276.5h0M74.3 271.4h0M69.5 273.0h0M63.6 276.1h0M61.0 272.4h0M71.2 275.4h0M49.4 305.4h0M41.0 303.8h0M53.9 297.0h0M50.3 295.9h0M33.2 297.7h0M37.5 297.7h0M40.0 299.0h0M34.5 305.0h0M51.7 294.8h0M36.9 297.0h0M47.5 299.7h0M45.2 286.7h0M30.3 291.9h0M29.9 295.6h0M90.7 297.1h0M88.0 299.0h0M89.5 302.7h0M96.2 303.1h0M108.0 299.6h0M95.8 291.2h0M68.1 344.5h0M63.8 343.0h0M64.9 342.2h0M82.7 341.6h0M85.4 348.5h0M84.8 337.9h0M83.6 333.0h0M90.4 346.8h0M86.9 343.8h0M82.3 339.3h0M88.6 336.7h0M81.9 351.3h0M91.4 343.8h0M45.8 362.3h0M38.0 358.4h0M42.1 360.8h0M48.5 362.6h0M51.9 357.5h0M48.4 360.8h0M47.1 363.1h0M45.7 362.6h0M46.8 367.5h0M46.5 363.1h0M56.1 363.9h0M49.7 367.7h0M41.8 365.6h0M51.0 364.1h0M52.1 366.0h0M157.1 360.2h0M148.7 385.1h0M172.4 372.3h0M165.7 361.9h0M146.0 381.9h0M164.1 361.3h0M170.2 377.2h0M169.4 382.8h0M168.1 366.0h0M161.1 360.6h0M150.6 359.8h0M146.0 363.2h0M147.6 383.2h0M142.2 372.9h0M162.7 387.1h0M151.6 386.0h0M151.6 387.2h0M142.0 376.3h0M144.1 383.4h0M163.3 359.5h0M151.7 359.9h0M163.0 380.2h0M154.1 363.5h0M158.2 364.8h0M167.1 363.0h0M164.1 361.9h0M164.4 360.1h0M167.0 362.2h0M160.3 362.5h0M162.9 361.9h0M28.6 384.3h0" stroke="#a8d83c" stroke-width="1.55" stroke-linecap="round" fill="none" opacity="1.0"/>
</g>
</g></g>
<path d="M177.5 250.2V407.6" stroke="#d4d4d4" stroke-width="1.1"/>
<path d="M336.7 250.2V407.6" stroke="#ffffff" stroke-width="1.4"/>
<path d="M155.4 400.3h17.5" stroke="#f0f0f0" stroke-width="1" fill="none"/>
<path d="M155.4 397.2v6.5M172.9 397.2v6.5" stroke="#e6e6e6" stroke-width="1.4" fill="none"/>
<path d="M314.3 400.3h17.6" stroke="#f0f0f0" stroke-width="1" fill="none"/>
<path d="M314.3 397.2v6.5M331.90000000000003 397.2v6.5" stroke="#e6e6e6" stroke-width="1.4" fill="none"/>
<path d="M473.9 400.3h17.8" stroke="#f0f0f0" stroke-width="1" fill="none"/>
<path d="M473.9 397.2v6.5M491.7 397.2v6.5" stroke="#e6e6e6" stroke-width="1.4" fill="none"/>
<rect x="0.5" y="0.5" width="519" height="790" fill="none" stroke="#000" stroke-width="1.3"/>
</svg>
</body></html>
